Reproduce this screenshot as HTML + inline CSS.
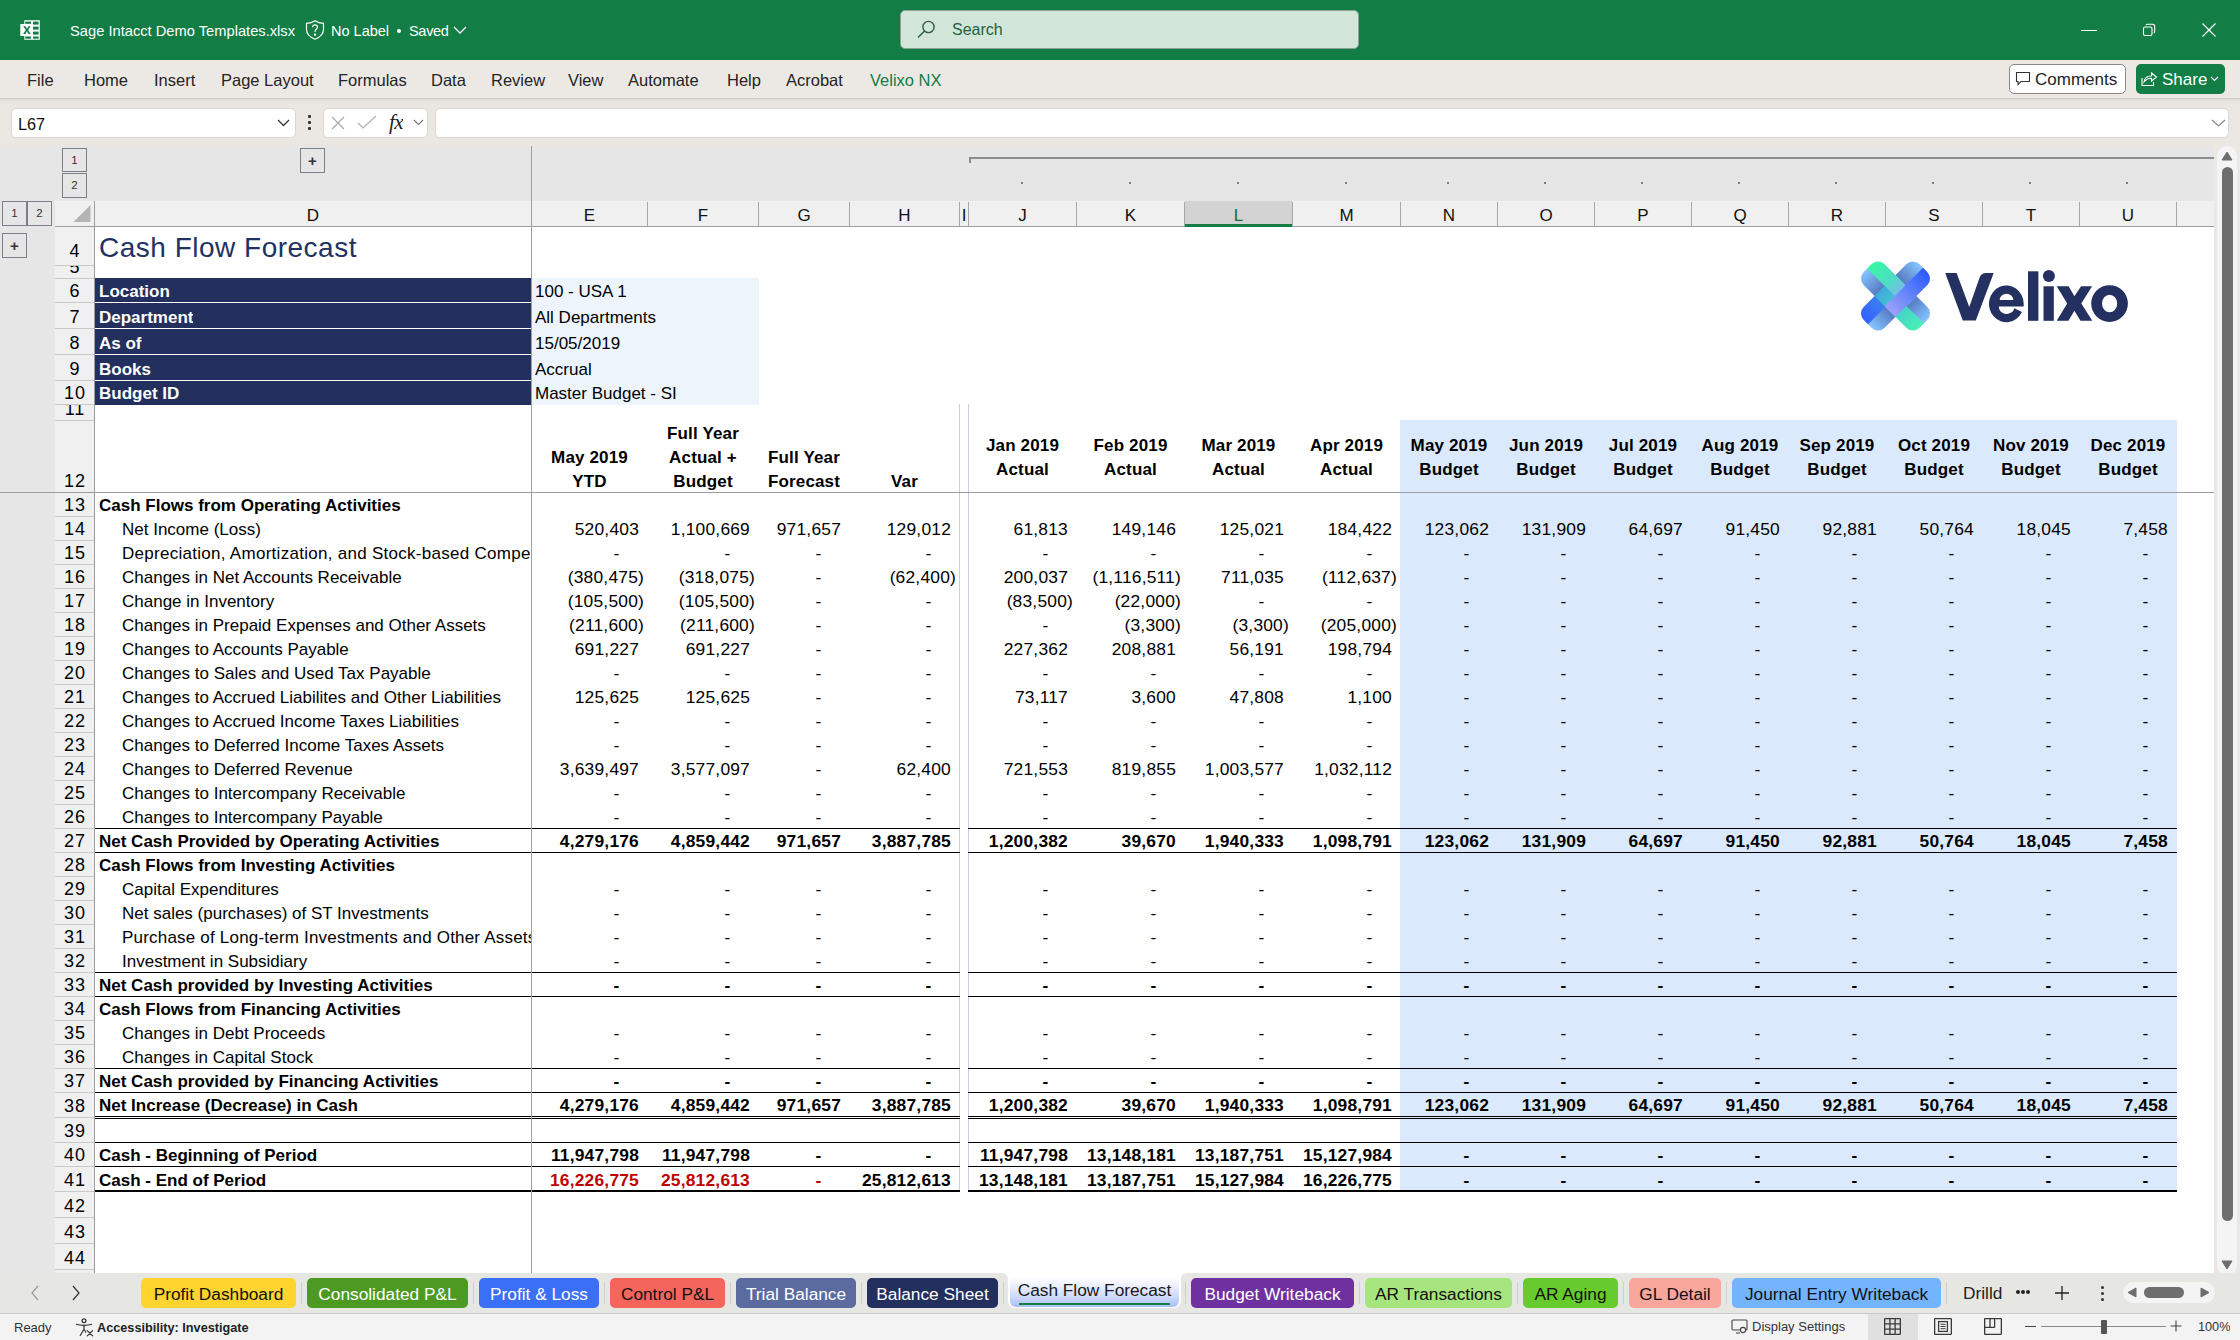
<!DOCTYPE html><html><head><meta charset="utf-8"><title>Cash Flow Forecast</title><style>
*{box-sizing:border-box;margin:0;padding:0}
html,body{width:2240px;height:1340px;overflow:hidden;background:#fff}
body{position:relative;font-family:'Liberation Sans', sans-serif;color:#000}
.a{position:absolute}
.t{position:absolute;white-space:nowrap;overflow:hidden}
.c{position:absolute;white-space:nowrap;overflow:hidden;font-size:17px;line-height:24px;height:24px}
.n{text-align:right;font-size:17.4px;letter-spacing:0.2px}
.b{font-weight:bold}
.h{visibility:hidden}
.p{display:inline-block;height:1px}
.mi{position:absolute;top:69px;font-size:16.5px;line-height:22px;color:#242424;white-space:nowrap}
.tab{position:absolute;top:1278px;height:30px;border-radius:5px;font-size:17.3px;line-height:32px;text-align:center;white-space:nowrap}
.sep{position:absolute;top:1282px;width:1px;height:22px;background:#cfcfcf}
</style></head><body>
<div class="a" style="left:0;top:0;width:2240px;height:60px;background:#127D44"></div>
<svg class="a" style="left:20px;top:20px" width="20" height="20" viewBox="0 0 20 20">
<path d="M4.3 0.3H19.8V19.8H4.3V16H0.3V4H4.3Z" fill="#fff"/>
<rect x="5.2" y="1.6" width="5.8" height="2.2" fill="#127D44"/>
<rect x="13" y="1.6" width="5.6" height="3" fill="#127D44"/>
<rect x="13" y="6.6" width="5.6" height="3" fill="#127D44"/>
<rect x="13" y="11.6" width="5.6" height="3" fill="#127D44"/>
<rect x="13" y="16.5" width="5.6" height="2.2" fill="#127D44"/>
<rect x="5.2" y="16.5" width="5.8" height="2.2" fill="#127D44"/>
<path d="M3.2 6.2H5.6L7 8.9L8.4 6.2H10.6L8.2 10L10.6 13.9H8.3L7 11.1L5.6 13.9H3.2L5.8 10Z" fill="#127D44"/>
</svg>
<div class="t" style="left:70px;top:21px;font-size:14.7px;line-height:20px;color:#fff">Sage Intacct Demo Templates.xlsx</div>
<svg class="a" style="left:305px;top:20px" width="20" height="20" viewBox="0 0 20 20" fill="none" stroke="#fff" stroke-width="1.2">
<path d="M10 0.8C7.5 2.6 5 3.3 1.5 3.3V9.5C1.5 14 4.5 17 10 19.2C15.5 17 18.5 14 18.5 9.5V3.3C15 3.3 12.5 2.6 10 0.8Z"/>
<path d="M7.5 7.3C7.5 5.8 8.6 4.8 10 4.8C11.4 4.8 12.5 5.8 12.5 7.1C12.5 8.9 10 9.2 10 11.4V12"/>
<circle cx="10" cy="14.6" r="0.6" fill="#fff"/>
</svg>
<div class="t" style="left:331px;top:21px;font-size:14.5px;line-height:20px;color:#fff">No Label</div>
<div class="a" style="left:397px;top:29px;width:4px;height:4px;border-radius:50%;background:#fff"></div>
<div class="t" style="left:409px;top:21px;font-size:14.5px;line-height:20px;color:#fff;letter-spacing:-0.3px">Saved</div>
<svg class="a" style="left:453px;top:26px" width="14" height="8" viewBox="0 0 14 8"><path d="M1 1L7 7L13 1" fill="none" stroke="#fff" stroke-width="1.3"/></svg>
<div class="a" style="left:900px;top:10px;width:459px;height:39px;background:#D1E5D9;border:1px solid #8FA196;border-radius:5px"></div>
<svg class="a" style="left:917px;top:20px" width="20" height="20" viewBox="0 0 20 20" fill="none" stroke="#2d5c40" stroke-width="1.4">
<circle cx="11.5" cy="7" r="5.6"/><path d="M7.5 11L1 17.6"/></svg>
<div class="t" style="left:952px;top:20px;font-size:16px;line-height:20px;color:#1D6339">Search</div>
<div class="a" style="left:2081px;top:30px;width:16px;height:1px;background:#fff"></div>
<svg class="a" style="left:2141px;top:22px" width="16" height="16" viewBox="0 0 16 16" fill="none" stroke="#fff" stroke-width="1.1">
<rect x="2.5" y="5" width="8.5" height="8.5" rx="1.5"/><path d="M5 3.2C5.3 2.6 5.8 2.3 6.5 2.3H11.5C12.9 2.3 13.7 3.1 13.7 4.5V9.5C13.7 10.2 13.4 10.7 12.8 11"/></svg>
<svg class="a" style="left:2201px;top:22px" width="16" height="16" viewBox="0 0 16 16" fill="none" stroke="#fff" stroke-width="1.2">
<path d="M1.5 1.5L14.5 14.5M14.5 1.5L1.5 14.5"/></svg>
<div class="a" style="left:0;top:60px;width:2240px;height:38px;background:#ECE9E5"></div>
<div class="a" style="left:0;top:98px;width:2240px;height:1px;background:#D3CFCB"></div>
<div class="a" style="left:0;top:99px;width:2240px;height:3px;background:linear-gradient(#DCD9D5,#E9E6E2)"></div>
<div class="mi" style="left:27px">File</div>
<div class="mi" style="left:84px">Home</div>
<div class="mi" style="left:154px">Insert</div>
<div class="mi" style="left:221px">Page Layout</div>
<div class="mi" style="left:338px">Formulas</div>
<div class="mi" style="left:431px">Data</div>
<div class="mi" style="left:491px">Review</div>
<div class="mi" style="left:568px">View</div>
<div class="mi" style="left:628px">Automate</div>
<div class="mi" style="left:727px">Help</div>
<div class="mi" style="left:786px">Acrobat</div>
<div class="mi" style="left:870px;color:#127D44">Velixo NX</div>
<div class="a" style="left:2009px;top:64px;width:117px;height:30px;background:#fff;border:1px solid #8A8A8A;border-radius:5px"></div>
<svg class="a" style="left:2015px;top:71px" width="16" height="16" viewBox="0 0 16 16" fill="none" stroke="#333" stroke-width="1.1">
<path d="M1.5 1.5H14.5V10.5H6L3 13.5V10.5H1.5Z"/></svg>
<div class="t" style="left:2035px;top:69px;font-size:17px;line-height:22px;color:#242424">Comments</div>
<div class="a" style="left:2136px;top:64px;width:89px;height:30px;background:#127D44;border-radius:5px"></div>
<svg class="a" style="left:2141px;top:70px" width="17" height="17" viewBox="0 0 17 17" fill="none" stroke="#fff" stroke-width="1.1">
<path d="M1 8V15.5H12.5V12"/><path d="M3 12C3.5 8 6.5 6 10.5 6V3L15.5 7L10.5 11V8.3C7.5 8.3 5 9.5 3 12Z"/></svg>
<div class="t" style="left:2162px;top:69px;font-size:17px;line-height:22px;color:#fff">Share</div>
<svg class="a" style="left:2210px;top:76px" width="9" height="6" viewBox="0 0 9 6"><path d="M1 1L4.5 4.5L8 1" fill="none" stroke="#fff" stroke-width="1.2"/></svg>
<div class="a" style="left:0;top:102px;width:2240px;height:44px;background:#EAE7E3"></div>
<div class="a" style="left:11px;top:108px;width:285px;height:30px;background:#fff;border:1px solid #D9D6D3;border-radius:5px"></div>
<div class="t" style="left:18px;top:113px;font-size:16.3px;line-height:22px;color:#111">L67</div>
<svg class="a" style="left:277px;top:119px" width="13" height="8" viewBox="0 0 13 8"><path d="M1 1L6.5 6.5L12 1" fill="none" stroke="#333" stroke-width="1.3"/></svg>
<div class="a" style="left:308px;top:115px;width:3px;height:3px;background:#333;border-radius:1px"></div>
<div class="a" style="left:308px;top:121px;width:3px;height:3px;background:#333;border-radius:1px"></div>
<div class="a" style="left:308px;top:127px;width:3px;height:3px;background:#333;border-radius:1px"></div>
<div class="a" style="left:323px;top:108px;width:105px;height:30px;background:#fff;border:1px solid #D9D6D3;border-radius:5px"></div>
<svg class="a" style="left:330px;top:115px" width="16" height="16" viewBox="0 0 16 16"><path d="M2 2L14 14M14 2L2 14" stroke="#a8a8a8" stroke-width="1.2"/></svg>
<svg class="a" style="left:357px;top:115px" width="20" height="16" viewBox="0 0 20 16"><path d="M1 8L6 13L19 1" fill="none" stroke="#b0b0b0" stroke-width="1.2"/></svg>
<div class="t" style="left:389px;top:110px;font-family:'Liberation Serif',serif;font-style:italic;font-weight:normal;font-size:21px;line-height:24px;color:#222;letter-spacing:-0.5px">fx</div>
<svg class="a" style="left:413px;top:119px" width="11" height="7" viewBox="0 0 11 7"><path d="M1 1L5.5 5.5L10 1" fill="none" stroke="#777" stroke-width="1.1"/></svg>
<div class="a" style="left:435px;top:108px;width:1794px;height:30px;background:#fff;border:1px solid #D9D6D3;border-radius:5px"></div>
<svg class="a" style="left:2211px;top:119px" width="15" height="8" viewBox="0 0 15 8"><path d="M1 1L7.5 7L14 1" fill="none" stroke="#888" stroke-width="1.2"/></svg>
<div class="a" style="left:0;top:146px;width:2214px;height:55px;background:#E6E6E6"></div>
<div class="a" style="left:0;top:201px;width:55px;height:1072px;background:#E6E6E6"></div>
<div class="a" style="left:62px;top:148px;width:25px;height:24px;border:1px solid #7A7F88;background:#E6E6E6;font-size:11.5px;line-height:22px;text-align:center;color:#333">1</div>
<div class="a" style="left:62px;top:173px;width:25px;height:25px;border:1px solid #7A7F88;background:#E6E6E6;font-size:11.5px;line-height:23px;text-align:center;color:#333">2</div>
<div class="a" style="left:2px;top:201px;width:25px;height:25px;border:1px solid #7A7F88;background:#E6E6E6;font-size:11.5px;line-height:23px;text-align:center;color:#333">1</div>
<div class="a" style="left:27px;top:201px;width:25px;height:25px;border:1px solid #7A7F88;background:#E6E6E6;font-size:11.5px;line-height:23px;text-align:center;color:#333">2</div>
<div class="a" style="left:300px;top:148px;width:25px;height:25px;border:1px solid #7A7F88;background:#E6E6E6;font-size:11.5px;line-height:23px;text-align:center;color:#333"><b style="font-size:15px">+</b></div>
<div class="a" style="left:2px;top:233px;width:25px;height:25px;border:1px solid #7A7F88;background:#E6E6E6;font-size:11.5px;line-height:23px;text-align:center;color:#333"><b style="font-size:15px">+</b></div>
<div class="a" style="left:969px;top:157px;width:1245px;height:2px;background:#8C8C8C"></div>
<div class="a" style="left:969px;top:157px;width:2px;height:6px;background:#8C8C8C"></div>
<div class="a" style="left:1021px;top:182px;width:2px;height:2px;background:#7c7c7c"></div>
<div class="a" style="left:1129px;top:182px;width:2px;height:2px;background:#7c7c7c"></div>
<div class="a" style="left:1237px;top:182px;width:2px;height:2px;background:#7c7c7c"></div>
<div class="a" style="left:1345px;top:182px;width:2px;height:2px;background:#7c7c7c"></div>
<div class="a" style="left:1447px;top:182px;width:2px;height:2px;background:#7c7c7c"></div>
<div class="a" style="left:1544px;top:182px;width:2px;height:2px;background:#7c7c7c"></div>
<div class="a" style="left:1641px;top:182px;width:2px;height:2px;background:#7c7c7c"></div>
<div class="a" style="left:1738px;top:182px;width:2px;height:2px;background:#7c7c7c"></div>
<div class="a" style="left:1835px;top:182px;width:2px;height:2px;background:#7c7c7c"></div>
<div class="a" style="left:1932px;top:182px;width:2px;height:2px;background:#7c7c7c"></div>
<div class="a" style="left:2029px;top:182px;width:2px;height:2px;background:#7c7c7c"></div>
<div class="a" style="left:2126px;top:182px;width:2px;height:2px;background:#7c7c7c"></div>
<div class="a" style="left:55px;top:201px;width:2159px;height:25px;background:#F0F0F0"></div>
<div class="a" style="left:55px;top:226px;width:2159px;height:1px;background:#9E9E9E"></div>
<svg class="a" style="left:72px;top:204px" width="19" height="19" viewBox="0 0 19 19"><path d="M18.5 1V18H1.5Z" fill="#B4B4B4"/></svg>
<div class="t" style="left:95px;top:204px;width:436px;height:22px;font-size:17px;line-height:24px;text-align:center;color:#111">D</div>
<div class="a" style="left:531px;top:202px;width:1px;height:24px;background:#A8A8A8"></div>
<div class="t" style="left:532px;top:204px;width:115px;height:22px;font-size:17px;line-height:24px;text-align:center;color:#111">E</div>
<div class="a" style="left:647px;top:202px;width:1px;height:24px;background:#A8A8A8"></div>
<div class="t" style="left:648px;top:204px;width:110px;height:22px;font-size:17px;line-height:24px;text-align:center;color:#111">F</div>
<div class="a" style="left:758px;top:202px;width:1px;height:24px;background:#A8A8A8"></div>
<div class="t" style="left:759px;top:204px;width:90px;height:22px;font-size:17px;line-height:24px;text-align:center;color:#111">G</div>
<div class="a" style="left:849px;top:202px;width:1px;height:24px;background:#A8A8A8"></div>
<div class="t" style="left:850px;top:204px;width:109px;height:22px;font-size:17px;line-height:24px;text-align:center;color:#111">H</div>
<div class="a" style="left:959px;top:202px;width:1px;height:24px;background:#A8A8A8"></div>
<div class="t" style="left:960px;top:204px;width:8px;height:22px;font-size:17px;line-height:24px;text-align:center;color:#111">I</div>
<div class="a" style="left:968px;top:202px;width:1px;height:24px;background:#A8A8A8"></div>
<div class="t" style="left:969px;top:204px;width:107px;height:22px;font-size:17px;line-height:24px;text-align:center;color:#111">J</div>
<div class="a" style="left:1076px;top:202px;width:1px;height:24px;background:#A8A8A8"></div>
<div class="t" style="left:1077px;top:204px;width:107px;height:22px;font-size:17px;line-height:24px;text-align:center;color:#111">K</div>
<div class="a" style="left:1184px;top:202px;width:1px;height:24px;background:#A8A8A8"></div>
<div class="a" style="left:1185px;top:201px;width:107px;height:25px;background:#D2D2D2"></div>
<div class="a" style="left:1185px;top:224px;width:107px;height:3px;background:#127D44"></div>
<div class="t" style="left:1185px;top:204px;width:107px;height:22px;font-size:17px;line-height:24px;text-align:center;color:#1B6B3A">L</div>
<div class="a" style="left:1292px;top:202px;width:1px;height:24px;background:#A8A8A8"></div>
<div class="t" style="left:1293px;top:204px;width:107px;height:22px;font-size:17px;line-height:24px;text-align:center;color:#111">M</div>
<div class="a" style="left:1400px;top:202px;width:1px;height:24px;background:#A8A8A8"></div>
<div class="t" style="left:1401px;top:204px;width:96px;height:22px;font-size:17px;line-height:24px;text-align:center;color:#111">N</div>
<div class="a" style="left:1497px;top:202px;width:1px;height:24px;background:#A8A8A8"></div>
<div class="t" style="left:1498px;top:204px;width:96px;height:22px;font-size:17px;line-height:24px;text-align:center;color:#111">O</div>
<div class="a" style="left:1594px;top:202px;width:1px;height:24px;background:#A8A8A8"></div>
<div class="t" style="left:1595px;top:204px;width:96px;height:22px;font-size:17px;line-height:24px;text-align:center;color:#111">P</div>
<div class="a" style="left:1691px;top:202px;width:1px;height:24px;background:#A8A8A8"></div>
<div class="t" style="left:1692px;top:204px;width:96px;height:22px;font-size:17px;line-height:24px;text-align:center;color:#111">Q</div>
<div class="a" style="left:1788px;top:202px;width:1px;height:24px;background:#A8A8A8"></div>
<div class="t" style="left:1789px;top:204px;width:96px;height:22px;font-size:17px;line-height:24px;text-align:center;color:#111">R</div>
<div class="a" style="left:1885px;top:202px;width:1px;height:24px;background:#A8A8A8"></div>
<div class="t" style="left:1886px;top:204px;width:96px;height:22px;font-size:17px;line-height:24px;text-align:center;color:#111">S</div>
<div class="a" style="left:1982px;top:202px;width:1px;height:24px;background:#A8A8A8"></div>
<div class="t" style="left:1983px;top:204px;width:96px;height:22px;font-size:17px;line-height:24px;text-align:center;color:#111">T</div>
<div class="a" style="left:2079px;top:202px;width:1px;height:24px;background:#A8A8A8"></div>
<div class="t" style="left:2080px;top:204px;width:96px;height:22px;font-size:17px;line-height:24px;text-align:center;color:#111">U</div>
<div class="a" style="left:2176px;top:202px;width:1px;height:24px;background:#A8A8A8"></div>
<div class="a" style="left:55px;top:227px;width:39px;height:1046px;background:#F0F0F0"></div>
<div class="a" style="left:94px;top:201px;width:1px;height:1072px;background:#9E9E9E"></div>
<div class="t" style="left:55px;top:227px;width:39px;height:38px"><div style="position:absolute;left:0;width:39px;top:12px;text-align:center;font-size:18px;line-height:24px;letter-spacing:1px;text-indent:1px">4</div></div>
<div class="a" style="left:55px;top:265px;width:39px;height:1px;background:#C9C9C9"></div>
<div class="t" style="left:55px;top:266px;width:39px;height:12px"><div style="position:absolute;left:0;width:39px;top:-11px;text-align:center;font-size:18px;line-height:24px;letter-spacing:1px;text-indent:1px">5</div></div>
<div class="a" style="left:55px;top:278px;width:39px;height:1px;background:#C9C9C9"></div>
<div class="t" style="left:55px;top:279px;width:39px;height:23px"><div style="position:absolute;left:0;width:39px;top:0px;text-align:center;font-size:18px;line-height:24px;letter-spacing:1px;text-indent:1px">6</div></div>
<div class="a" style="left:55px;top:302px;width:39px;height:1px;background:#C9C9C9"></div>
<div class="t" style="left:55px;top:303px;width:39px;height:25px"><div style="position:absolute;left:0;width:39px;top:2px;text-align:center;font-size:18px;line-height:24px;letter-spacing:1px;text-indent:1px">7</div></div>
<div class="a" style="left:55px;top:328px;width:39px;height:1px;background:#C9C9C9"></div>
<div class="t" style="left:55px;top:329px;width:39px;height:25px"><div style="position:absolute;left:0;width:39px;top:2px;text-align:center;font-size:18px;line-height:24px;letter-spacing:1px;text-indent:1px">8</div></div>
<div class="a" style="left:55px;top:354px;width:39px;height:1px;background:#C9C9C9"></div>
<div class="t" style="left:55px;top:355px;width:39px;height:25px"><div style="position:absolute;left:0;width:39px;top:2px;text-align:center;font-size:18px;line-height:24px;letter-spacing:1px;text-indent:1px">9</div></div>
<div class="a" style="left:55px;top:380px;width:39px;height:1px;background:#C9C9C9"></div>
<div class="t" style="left:55px;top:381px;width:39px;height:23px"><div style="position:absolute;left:0;width:39px;top:0px;text-align:center;font-size:18px;line-height:24px;letter-spacing:1px;text-indent:1px">10</div></div>
<div class="a" style="left:55px;top:404px;width:39px;height:1px;background:#C9C9C9"></div>
<div class="t" style="left:55px;top:405px;width:39px;height:15px"><div style="position:absolute;left:0;width:39px;top:-8px;text-align:center;font-size:18px;line-height:24px;letter-spacing:1px;text-indent:1px">11</div></div>
<div class="a" style="left:55px;top:420px;width:39px;height:1px;background:#C9C9C9"></div>
<div class="t" style="left:55px;top:421px;width:39px;height:71px"><div style="position:absolute;left:0;width:39px;top:48px;text-align:center;font-size:18px;line-height:24px;letter-spacing:1px;text-indent:1px">12</div></div>
<div class="t" style="left:55px;top:493px;width:39px;height:23px"><div style="position:absolute;left:0;width:39px;top:0px;text-align:center;font-size:18px;line-height:24px;letter-spacing:1px;text-indent:1px">13</div></div>
<div class="a" style="left:55px;top:516px;width:39px;height:1px;background:#C9C9C9"></div>
<div class="t" style="left:55px;top:517px;width:39px;height:23px"><div style="position:absolute;left:0;width:39px;top:0px;text-align:center;font-size:18px;line-height:24px;letter-spacing:1px;text-indent:1px">14</div></div>
<div class="a" style="left:55px;top:540px;width:39px;height:1px;background:#C9C9C9"></div>
<div class="t" style="left:55px;top:541px;width:39px;height:23px"><div style="position:absolute;left:0;width:39px;top:0px;text-align:center;font-size:18px;line-height:24px;letter-spacing:1px;text-indent:1px">15</div></div>
<div class="a" style="left:55px;top:564px;width:39px;height:1px;background:#C9C9C9"></div>
<div class="t" style="left:55px;top:565px;width:39px;height:23px"><div style="position:absolute;left:0;width:39px;top:0px;text-align:center;font-size:18px;line-height:24px;letter-spacing:1px;text-indent:1px">16</div></div>
<div class="a" style="left:55px;top:588px;width:39px;height:1px;background:#C9C9C9"></div>
<div class="t" style="left:55px;top:589px;width:39px;height:23px"><div style="position:absolute;left:0;width:39px;top:0px;text-align:center;font-size:18px;line-height:24px;letter-spacing:1px;text-indent:1px">17</div></div>
<div class="a" style="left:55px;top:612px;width:39px;height:1px;background:#C9C9C9"></div>
<div class="t" style="left:55px;top:613px;width:39px;height:23px"><div style="position:absolute;left:0;width:39px;top:0px;text-align:center;font-size:18px;line-height:24px;letter-spacing:1px;text-indent:1px">18</div></div>
<div class="a" style="left:55px;top:636px;width:39px;height:1px;background:#C9C9C9"></div>
<div class="t" style="left:55px;top:637px;width:39px;height:23px"><div style="position:absolute;left:0;width:39px;top:0px;text-align:center;font-size:18px;line-height:24px;letter-spacing:1px;text-indent:1px">19</div></div>
<div class="a" style="left:55px;top:660px;width:39px;height:1px;background:#C9C9C9"></div>
<div class="t" style="left:55px;top:661px;width:39px;height:23px"><div style="position:absolute;left:0;width:39px;top:0px;text-align:center;font-size:18px;line-height:24px;letter-spacing:1px;text-indent:1px">20</div></div>
<div class="a" style="left:55px;top:684px;width:39px;height:1px;background:#C9C9C9"></div>
<div class="t" style="left:55px;top:685px;width:39px;height:23px"><div style="position:absolute;left:0;width:39px;top:0px;text-align:center;font-size:18px;line-height:24px;letter-spacing:1px;text-indent:1px">21</div></div>
<div class="a" style="left:55px;top:708px;width:39px;height:1px;background:#C9C9C9"></div>
<div class="t" style="left:55px;top:709px;width:39px;height:23px"><div style="position:absolute;left:0;width:39px;top:0px;text-align:center;font-size:18px;line-height:24px;letter-spacing:1px;text-indent:1px">22</div></div>
<div class="a" style="left:55px;top:732px;width:39px;height:1px;background:#C9C9C9"></div>
<div class="t" style="left:55px;top:733px;width:39px;height:23px"><div style="position:absolute;left:0;width:39px;top:0px;text-align:center;font-size:18px;line-height:24px;letter-spacing:1px;text-indent:1px">23</div></div>
<div class="a" style="left:55px;top:756px;width:39px;height:1px;background:#C9C9C9"></div>
<div class="t" style="left:55px;top:757px;width:39px;height:23px"><div style="position:absolute;left:0;width:39px;top:0px;text-align:center;font-size:18px;line-height:24px;letter-spacing:1px;text-indent:1px">24</div></div>
<div class="a" style="left:55px;top:780px;width:39px;height:1px;background:#C9C9C9"></div>
<div class="t" style="left:55px;top:781px;width:39px;height:23px"><div style="position:absolute;left:0;width:39px;top:0px;text-align:center;font-size:18px;line-height:24px;letter-spacing:1px;text-indent:1px">25</div></div>
<div class="a" style="left:55px;top:804px;width:39px;height:1px;background:#C9C9C9"></div>
<div class="t" style="left:55px;top:805px;width:39px;height:23px"><div style="position:absolute;left:0;width:39px;top:0px;text-align:center;font-size:18px;line-height:24px;letter-spacing:1px;text-indent:1px">26</div></div>
<div class="a" style="left:55px;top:828px;width:39px;height:1px;background:#C9C9C9"></div>
<div class="t" style="left:55px;top:829px;width:39px;height:23px"><div style="position:absolute;left:0;width:39px;top:0px;text-align:center;font-size:18px;line-height:24px;letter-spacing:1px;text-indent:1px">27</div></div>
<div class="a" style="left:55px;top:852px;width:39px;height:1px;background:#C9C9C9"></div>
<div class="t" style="left:55px;top:853px;width:39px;height:23px"><div style="position:absolute;left:0;width:39px;top:0px;text-align:center;font-size:18px;line-height:24px;letter-spacing:1px;text-indent:1px">28</div></div>
<div class="a" style="left:55px;top:876px;width:39px;height:1px;background:#C9C9C9"></div>
<div class="t" style="left:55px;top:877px;width:39px;height:23px"><div style="position:absolute;left:0;width:39px;top:0px;text-align:center;font-size:18px;line-height:24px;letter-spacing:1px;text-indent:1px">29</div></div>
<div class="a" style="left:55px;top:900px;width:39px;height:1px;background:#C9C9C9"></div>
<div class="t" style="left:55px;top:901px;width:39px;height:23px"><div style="position:absolute;left:0;width:39px;top:0px;text-align:center;font-size:18px;line-height:24px;letter-spacing:1px;text-indent:1px">30</div></div>
<div class="a" style="left:55px;top:924px;width:39px;height:1px;background:#C9C9C9"></div>
<div class="t" style="left:55px;top:925px;width:39px;height:23px"><div style="position:absolute;left:0;width:39px;top:0px;text-align:center;font-size:18px;line-height:24px;letter-spacing:1px;text-indent:1px">31</div></div>
<div class="a" style="left:55px;top:948px;width:39px;height:1px;background:#C9C9C9"></div>
<div class="t" style="left:55px;top:949px;width:39px;height:23px"><div style="position:absolute;left:0;width:39px;top:0px;text-align:center;font-size:18px;line-height:24px;letter-spacing:1px;text-indent:1px">32</div></div>
<div class="a" style="left:55px;top:972px;width:39px;height:1px;background:#C9C9C9"></div>
<div class="t" style="left:55px;top:973px;width:39px;height:23px"><div style="position:absolute;left:0;width:39px;top:0px;text-align:center;font-size:18px;line-height:24px;letter-spacing:1px;text-indent:1px">33</div></div>
<div class="a" style="left:55px;top:996px;width:39px;height:1px;background:#C9C9C9"></div>
<div class="t" style="left:55px;top:997px;width:39px;height:23px"><div style="position:absolute;left:0;width:39px;top:0px;text-align:center;font-size:18px;line-height:24px;letter-spacing:1px;text-indent:1px">34</div></div>
<div class="a" style="left:55px;top:1020px;width:39px;height:1px;background:#C9C9C9"></div>
<div class="t" style="left:55px;top:1021px;width:39px;height:23px"><div style="position:absolute;left:0;width:39px;top:0px;text-align:center;font-size:18px;line-height:24px;letter-spacing:1px;text-indent:1px">35</div></div>
<div class="a" style="left:55px;top:1044px;width:39px;height:1px;background:#C9C9C9"></div>
<div class="t" style="left:55px;top:1045px;width:39px;height:23px"><div style="position:absolute;left:0;width:39px;top:0px;text-align:center;font-size:18px;line-height:24px;letter-spacing:1px;text-indent:1px">36</div></div>
<div class="a" style="left:55px;top:1068px;width:39px;height:1px;background:#C9C9C9"></div>
<div class="t" style="left:55px;top:1069px;width:39px;height:23px"><div style="position:absolute;left:0;width:39px;top:0px;text-align:center;font-size:18px;line-height:24px;letter-spacing:1px;text-indent:1px">37</div></div>
<div class="a" style="left:55px;top:1092px;width:39px;height:1px;background:#C9C9C9"></div>
<div class="t" style="left:55px;top:1093px;width:39px;height:24px"><div style="position:absolute;left:0;width:39px;top:1px;text-align:center;font-size:18px;line-height:24px;letter-spacing:1px;text-indent:1px">38</div></div>
<div class="a" style="left:55px;top:1117px;width:39px;height:1px;background:#C9C9C9"></div>
<div class="t" style="left:55px;top:1118px;width:39px;height:24px"><div style="position:absolute;left:0;width:39px;top:1px;text-align:center;font-size:18px;line-height:24px;letter-spacing:1px;text-indent:1px">39</div></div>
<div class="a" style="left:55px;top:1142px;width:39px;height:1px;background:#C9C9C9"></div>
<div class="t" style="left:55px;top:1143px;width:39px;height:23px"><div style="position:absolute;left:0;width:39px;top:0px;text-align:center;font-size:18px;line-height:24px;letter-spacing:1px;text-indent:1px">40</div></div>
<div class="a" style="left:55px;top:1166px;width:39px;height:1px;background:#C9C9C9"></div>
<div class="t" style="left:55px;top:1167px;width:39px;height:24px"><div style="position:absolute;left:0;width:39px;top:1px;text-align:center;font-size:18px;line-height:24px;letter-spacing:1px;text-indent:1px">41</div></div>
<div class="a" style="left:55px;top:1191px;width:39px;height:1px;background:#C9C9C9"></div>
<div class="t" style="left:55px;top:1192px;width:39px;height:25px"><div style="position:absolute;left:0;width:39px;top:2px;text-align:center;font-size:18px;line-height:24px;letter-spacing:1px;text-indent:1px">42</div></div>
<div class="a" style="left:55px;top:1217px;width:39px;height:1px;background:#C9C9C9"></div>
<div class="t" style="left:55px;top:1218px;width:39px;height:25px"><div style="position:absolute;left:0;width:39px;top:2px;text-align:center;font-size:18px;line-height:24px;letter-spacing:1px;text-indent:1px">43</div></div>
<div class="a" style="left:55px;top:1243px;width:39px;height:1px;background:#C9C9C9"></div>
<div class="t" style="left:55px;top:1244px;width:39px;height:25px"><div style="position:absolute;left:0;width:39px;top:2px;text-align:center;font-size:18px;line-height:24px;letter-spacing:1px;text-indent:1px">44</div></div>
<div class="a" style="left:55px;top:1269px;width:39px;height:1px;background:#C9C9C9"></div>
<div class="t" style="left:55px;top:1270px;width:39px;height:3px"><div style="position:absolute;left:0;width:39px;top:2px;text-align:center;font-size:18px;line-height:24px;letter-spacing:1px;text-indent:1px">45</div></div>
<div class="a" style="left:95px;top:227px;width:2119px;height:1046px;overflow:hidden">
<div class="a" style="left:437px;top:51px;width:227px;height:127px;background:#EDF4FC"></div>
<div class="a" style="left:1305px;top:193px;width:777px;height:771px;background:#DAE9FC"></div>
<div class="a" style="left:0px;top:51px;width:436px;height:127px;background:#23305E"></div>
<div class="a" style="left:0px;top:75px;width:436px;height:1px;background:#fff"></div>
<div class="a" style="left:0px;top:101px;width:436px;height:1px;background:#fff"></div>
<div class="a" style="left:0px;top:127px;width:436px;height:1px;background:#fff"></div>
<div class="a" style="left:0px;top:153px;width:436px;height:1px;background:#fff"></div>
<div class="c b" style="left:4px;top:53px;color:#fff;">Location</div>
<div class="c" style="left:440px;top:53px;">100 - USA 1</div>
<div class="c b" style="left:4px;top:79px;color:#fff;">Department</div>
<div class="c" style="left:440px;top:79px;">All Departments</div>
<div class="c b" style="left:4px;top:105px;color:#fff;">As of</div>
<div class="c" style="left:440px;top:105px;">15/05/2019</div>
<div class="c b" style="left:4px;top:131px;color:#fff;">Books</div>
<div class="c" style="left:440px;top:131px;">Accrual</div>
<div class="c b" style="left:4px;top:155px;color:#fff;">Budget ID</div>
<div class="c" style="left:440px;top:155px;">Master Budget - SI</div>
<div class="t" style="left:4px;top:6px;font-size:28px;line-height:30px;letter-spacing:0.5px;color:#1F3263">Cash Flow Forecast</div>
<div class="t b" style="left:437px;top:219px;width:115px;font-size:17px;line-height:24px;text-align:center;letter-spacing:0.15px">May 2019<br>YTD</div>
<div class="t b" style="left:553px;top:195px;width:110px;font-size:17px;line-height:24px;text-align:center;letter-spacing:0.15px">Full Year<br>Actual +<br>Budget</div>
<div class="t b" style="left:664px;top:219px;width:90px;font-size:17px;line-height:24px;text-align:center;letter-spacing:0.15px">Full Year<br>Forecast</div>
<div class="t b" style="left:755px;top:243px;width:109px;font-size:17px;line-height:24px;text-align:center;letter-spacing:0.15px">Var</div>
<div class="t b" style="left:874px;top:207px;width:107px;font-size:17px;line-height:24px;text-align:center;letter-spacing:0.15px">Jan 2019<br>Actual</div>
<div class="t b" style="left:982px;top:207px;width:107px;font-size:17px;line-height:24px;text-align:center;letter-spacing:0.15px">Feb 2019<br>Actual</div>
<div class="t b" style="left:1090px;top:207px;width:107px;font-size:17px;line-height:24px;text-align:center;letter-spacing:0.15px">Mar 2019<br>Actual</div>
<div class="t b" style="left:1198px;top:207px;width:107px;font-size:17px;line-height:24px;text-align:center;letter-spacing:0.15px">Apr 2019<br>Actual</div>
<div class="t b" style="left:1306px;top:207px;width:96px;font-size:17px;line-height:24px;text-align:center;letter-spacing:0.15px">May 2019<br>Budget</div>
<div class="t b" style="left:1403px;top:207px;width:96px;font-size:17px;line-height:24px;text-align:center;letter-spacing:0.15px">Jun 2019<br>Budget</div>
<div class="t b" style="left:1500px;top:207px;width:96px;font-size:17px;line-height:24px;text-align:center;letter-spacing:0.15px">Jul 2019<br>Budget</div>
<div class="t b" style="left:1597px;top:207px;width:96px;font-size:17px;line-height:24px;text-align:center;letter-spacing:0.15px">Aug 2019<br>Budget</div>
<div class="t b" style="left:1694px;top:207px;width:96px;font-size:17px;line-height:24px;text-align:center;letter-spacing:0.15px">Sep 2019<br>Budget</div>
<div class="t b" style="left:1791px;top:207px;width:96px;font-size:17px;line-height:24px;text-align:center;letter-spacing:0.15px">Oct 2019<br>Budget</div>
<div class="t b" style="left:1888px;top:207px;width:96px;font-size:17px;line-height:24px;text-align:center;letter-spacing:0.15px">Nov 2019<br>Budget</div>
<div class="t b" style="left:1985px;top:207px;width:96px;font-size:17px;line-height:24px;text-align:center;letter-spacing:0.15px">Dec 2019<br>Budget</div>
<div class="a" style="left:864px;top:177px;width:1px;height:787px;background:#C7CEEC"></div>
<div class="a" style="left:873px;top:177px;width:1px;height:787px;background:#C7CEEC"></div>
<div class="c b" style="left:4px;top:267px;width:432px;">Cash Flows from Operating Activities</div>
<div class="c" style="left:27px;top:291px;width:409px;">Net Income (Loss)</div>
<div class="c n" style="left:437px;top:290px;width:112px;">520,403<span class="p" style="width:5px"></span></div>
<div class="c n" style="left:553px;top:290px;width:107px;">1,100,669<span class="p" style="width:5px"></span></div>
<div class="c n" style="left:664px;top:290px;width:87px;">971,657<span class="p" style="width:5px"></span></div>
<div class="c n" style="left:755px;top:290px;width:106px;">129,012<span class="p" style="width:5px"></span></div>
<div class="c n" style="left:874px;top:290px;width:104px;">61,813<span class="p" style="width:5px"></span></div>
<div class="c n" style="left:982px;top:290px;width:104px;">149,146<span class="p" style="width:5px"></span></div>
<div class="c n" style="left:1090px;top:290px;width:104px;">125,021<span class="p" style="width:5px"></span></div>
<div class="c n" style="left:1198px;top:290px;width:104px;">184,422<span class="p" style="width:5px"></span></div>
<div class="c n" style="left:1306px;top:290px;width:93px;">123,062<span class="p" style="width:5px"></span></div>
<div class="c n" style="left:1403px;top:290px;width:93px;">131,909<span class="p" style="width:5px"></span></div>
<div class="c n" style="left:1500px;top:290px;width:93px;">64,697<span class="p" style="width:5px"></span></div>
<div class="c n" style="left:1597px;top:290px;width:93px;">91,450<span class="p" style="width:5px"></span></div>
<div class="c n" style="left:1694px;top:290px;width:93px;">92,881<span class="p" style="width:5px"></span></div>
<div class="c n" style="left:1791px;top:290px;width:93px;">50,764<span class="p" style="width:5px"></span></div>
<div class="c n" style="left:1888px;top:290px;width:93px;">18,045<span class="p" style="width:5px"></span></div>
<div class="c n" style="left:1985px;top:290px;width:93px;">7,458<span class="p" style="width:5px"></span></div>
<div class="c" style="left:27px;top:315px;width:409px;letter-spacing:0.28px;">Depreciation, Amortization, and Stock-based Compensation</div>
<div class="c n" style="left:437px;top:314px;width:112px;">-<span class="p" style="width:24.5px"></span></div>
<div class="c n" style="left:553px;top:314px;width:107px;">-<span class="p" style="width:24.5px"></span></div>
<div class="c n" style="left:664px;top:314px;width:87px;">-<span class="p" style="width:24.5px"></span></div>
<div class="c n" style="left:755px;top:314px;width:106px;">-<span class="p" style="width:24.5px"></span></div>
<div class="c n" style="left:874px;top:314px;width:104px;">-<span class="p" style="width:24.5px"></span></div>
<div class="c n" style="left:982px;top:314px;width:104px;">-<span class="p" style="width:24.5px"></span></div>
<div class="c n" style="left:1090px;top:314px;width:104px;">-<span class="p" style="width:24.5px"></span></div>
<div class="c n" style="left:1198px;top:314px;width:104px;">-<span class="p" style="width:24.5px"></span></div>
<div class="c n" style="left:1306px;top:314px;width:93px;">-<span class="p" style="width:24.5px"></span></div>
<div class="c n" style="left:1403px;top:314px;width:93px;">-<span class="p" style="width:24.5px"></span></div>
<div class="c n" style="left:1500px;top:314px;width:93px;">-<span class="p" style="width:24.5px"></span></div>
<div class="c n" style="left:1597px;top:314px;width:93px;">-<span class="p" style="width:24.5px"></span></div>
<div class="c n" style="left:1694px;top:314px;width:93px;">-<span class="p" style="width:24.5px"></span></div>
<div class="c n" style="left:1791px;top:314px;width:93px;">-<span class="p" style="width:24.5px"></span></div>
<div class="c n" style="left:1888px;top:314px;width:93px;">-<span class="p" style="width:24.5px"></span></div>
<div class="c n" style="left:1985px;top:314px;width:93px;">-<span class="p" style="width:24.5px"></span></div>
<div class="c" style="left:27px;top:339px;width:409px;">Changes in Net Accounts Receivable</div>
<div class="c n" style="left:437px;top:338px;width:112px;">(380,475)</div>
<div class="c n" style="left:553px;top:338px;width:107px;">(318,075)</div>
<div class="c n" style="left:664px;top:338px;width:87px;">-<span class="p" style="width:24.5px"></span></div>
<div class="c n" style="left:755px;top:338px;width:106px;">(62,400)</div>
<div class="c n" style="left:874px;top:338px;width:104px;">200,037<span class="p" style="width:5px"></span></div>
<div class="c n" style="left:982px;top:338px;width:104px;">(1,116,511)</div>
<div class="c n" style="left:1090px;top:338px;width:104px;">711,035<span class="p" style="width:5px"></span></div>
<div class="c n" style="left:1198px;top:338px;width:104px;">(112,637)</div>
<div class="c n" style="left:1306px;top:338px;width:93px;">-<span class="p" style="width:24.5px"></span></div>
<div class="c n" style="left:1403px;top:338px;width:93px;">-<span class="p" style="width:24.5px"></span></div>
<div class="c n" style="left:1500px;top:338px;width:93px;">-<span class="p" style="width:24.5px"></span></div>
<div class="c n" style="left:1597px;top:338px;width:93px;">-<span class="p" style="width:24.5px"></span></div>
<div class="c n" style="left:1694px;top:338px;width:93px;">-<span class="p" style="width:24.5px"></span></div>
<div class="c n" style="left:1791px;top:338px;width:93px;">-<span class="p" style="width:24.5px"></span></div>
<div class="c n" style="left:1888px;top:338px;width:93px;">-<span class="p" style="width:24.5px"></span></div>
<div class="c n" style="left:1985px;top:338px;width:93px;">-<span class="p" style="width:24.5px"></span></div>
<div class="c" style="left:27px;top:363px;width:409px;">Change in Inventory</div>
<div class="c n" style="left:437px;top:362px;width:112px;">(105,500)</div>
<div class="c n" style="left:553px;top:362px;width:107px;">(105,500)</div>
<div class="c n" style="left:664px;top:362px;width:87px;">-<span class="p" style="width:24.5px"></span></div>
<div class="c n" style="left:755px;top:362px;width:106px;">-<span class="p" style="width:24.5px"></span></div>
<div class="c n" style="left:874px;top:362px;width:104px;">(83,500)</div>
<div class="c n" style="left:982px;top:362px;width:104px;">(22,000)</div>
<div class="c n" style="left:1090px;top:362px;width:104px;">-<span class="p" style="width:24.5px"></span></div>
<div class="c n" style="left:1198px;top:362px;width:104px;">-<span class="p" style="width:24.5px"></span></div>
<div class="c n" style="left:1306px;top:362px;width:93px;">-<span class="p" style="width:24.5px"></span></div>
<div class="c n" style="left:1403px;top:362px;width:93px;">-<span class="p" style="width:24.5px"></span></div>
<div class="c n" style="left:1500px;top:362px;width:93px;">-<span class="p" style="width:24.5px"></span></div>
<div class="c n" style="left:1597px;top:362px;width:93px;">-<span class="p" style="width:24.5px"></span></div>
<div class="c n" style="left:1694px;top:362px;width:93px;">-<span class="p" style="width:24.5px"></span></div>
<div class="c n" style="left:1791px;top:362px;width:93px;">-<span class="p" style="width:24.5px"></span></div>
<div class="c n" style="left:1888px;top:362px;width:93px;">-<span class="p" style="width:24.5px"></span></div>
<div class="c n" style="left:1985px;top:362px;width:93px;">-<span class="p" style="width:24.5px"></span></div>
<div class="c" style="left:27px;top:387px;width:409px;">Changes in Prepaid Expenses and Other Assets</div>
<div class="c n" style="left:437px;top:386px;width:112px;">(211,600)</div>
<div class="c n" style="left:553px;top:386px;width:107px;">(211,600)</div>
<div class="c n" style="left:664px;top:386px;width:87px;">-<span class="p" style="width:24.5px"></span></div>
<div class="c n" style="left:755px;top:386px;width:106px;">-<span class="p" style="width:24.5px"></span></div>
<div class="c n" style="left:874px;top:386px;width:104px;">-<span class="p" style="width:24.5px"></span></div>
<div class="c n" style="left:982px;top:386px;width:104px;">(3,300)</div>
<div class="c n" style="left:1090px;top:386px;width:104px;">(3,300)</div>
<div class="c n" style="left:1198px;top:386px;width:104px;">(205,000)</div>
<div class="c n" style="left:1306px;top:386px;width:93px;">-<span class="p" style="width:24.5px"></span></div>
<div class="c n" style="left:1403px;top:386px;width:93px;">-<span class="p" style="width:24.5px"></span></div>
<div class="c n" style="left:1500px;top:386px;width:93px;">-<span class="p" style="width:24.5px"></span></div>
<div class="c n" style="left:1597px;top:386px;width:93px;">-<span class="p" style="width:24.5px"></span></div>
<div class="c n" style="left:1694px;top:386px;width:93px;">-<span class="p" style="width:24.5px"></span></div>
<div class="c n" style="left:1791px;top:386px;width:93px;">-<span class="p" style="width:24.5px"></span></div>
<div class="c n" style="left:1888px;top:386px;width:93px;">-<span class="p" style="width:24.5px"></span></div>
<div class="c n" style="left:1985px;top:386px;width:93px;">-<span class="p" style="width:24.5px"></span></div>
<div class="c" style="left:27px;top:411px;width:409px;">Changes to Accounts Payable</div>
<div class="c n" style="left:437px;top:410px;width:112px;">691,227<span class="p" style="width:5px"></span></div>
<div class="c n" style="left:553px;top:410px;width:107px;">691,227<span class="p" style="width:5px"></span></div>
<div class="c n" style="left:664px;top:410px;width:87px;">-<span class="p" style="width:24.5px"></span></div>
<div class="c n" style="left:755px;top:410px;width:106px;">-<span class="p" style="width:24.5px"></span></div>
<div class="c n" style="left:874px;top:410px;width:104px;">227,362<span class="p" style="width:5px"></span></div>
<div class="c n" style="left:982px;top:410px;width:104px;">208,881<span class="p" style="width:5px"></span></div>
<div class="c n" style="left:1090px;top:410px;width:104px;">56,191<span class="p" style="width:5px"></span></div>
<div class="c n" style="left:1198px;top:410px;width:104px;">198,794<span class="p" style="width:5px"></span></div>
<div class="c n" style="left:1306px;top:410px;width:93px;">-<span class="p" style="width:24.5px"></span></div>
<div class="c n" style="left:1403px;top:410px;width:93px;">-<span class="p" style="width:24.5px"></span></div>
<div class="c n" style="left:1500px;top:410px;width:93px;">-<span class="p" style="width:24.5px"></span></div>
<div class="c n" style="left:1597px;top:410px;width:93px;">-<span class="p" style="width:24.5px"></span></div>
<div class="c n" style="left:1694px;top:410px;width:93px;">-<span class="p" style="width:24.5px"></span></div>
<div class="c n" style="left:1791px;top:410px;width:93px;">-<span class="p" style="width:24.5px"></span></div>
<div class="c n" style="left:1888px;top:410px;width:93px;">-<span class="p" style="width:24.5px"></span></div>
<div class="c n" style="left:1985px;top:410px;width:93px;">-<span class="p" style="width:24.5px"></span></div>
<div class="c" style="left:27px;top:435px;width:409px;">Changes to Sales and Used Tax Payable</div>
<div class="c n" style="left:437px;top:434px;width:112px;">-<span class="p" style="width:24.5px"></span></div>
<div class="c n" style="left:553px;top:434px;width:107px;">-<span class="p" style="width:24.5px"></span></div>
<div class="c n" style="left:664px;top:434px;width:87px;">-<span class="p" style="width:24.5px"></span></div>
<div class="c n" style="left:755px;top:434px;width:106px;">-<span class="p" style="width:24.5px"></span></div>
<div class="c n" style="left:874px;top:434px;width:104px;">-<span class="p" style="width:24.5px"></span></div>
<div class="c n" style="left:982px;top:434px;width:104px;">-<span class="p" style="width:24.5px"></span></div>
<div class="c n" style="left:1090px;top:434px;width:104px;">-<span class="p" style="width:24.5px"></span></div>
<div class="c n" style="left:1198px;top:434px;width:104px;">-<span class="p" style="width:24.5px"></span></div>
<div class="c n" style="left:1306px;top:434px;width:93px;">-<span class="p" style="width:24.5px"></span></div>
<div class="c n" style="left:1403px;top:434px;width:93px;">-<span class="p" style="width:24.5px"></span></div>
<div class="c n" style="left:1500px;top:434px;width:93px;">-<span class="p" style="width:24.5px"></span></div>
<div class="c n" style="left:1597px;top:434px;width:93px;">-<span class="p" style="width:24.5px"></span></div>
<div class="c n" style="left:1694px;top:434px;width:93px;">-<span class="p" style="width:24.5px"></span></div>
<div class="c n" style="left:1791px;top:434px;width:93px;">-<span class="p" style="width:24.5px"></span></div>
<div class="c n" style="left:1888px;top:434px;width:93px;">-<span class="p" style="width:24.5px"></span></div>
<div class="c n" style="left:1985px;top:434px;width:93px;">-<span class="p" style="width:24.5px"></span></div>
<div class="c" style="left:27px;top:459px;width:409px;">Changes to Accrued Liabilites and Other Liabilities</div>
<div class="c n" style="left:437px;top:458px;width:112px;">125,625<span class="p" style="width:5px"></span></div>
<div class="c n" style="left:553px;top:458px;width:107px;">125,625<span class="p" style="width:5px"></span></div>
<div class="c n" style="left:664px;top:458px;width:87px;">-<span class="p" style="width:24.5px"></span></div>
<div class="c n" style="left:755px;top:458px;width:106px;">-<span class="p" style="width:24.5px"></span></div>
<div class="c n" style="left:874px;top:458px;width:104px;">73,117<span class="p" style="width:5px"></span></div>
<div class="c n" style="left:982px;top:458px;width:104px;">3,600<span class="p" style="width:5px"></span></div>
<div class="c n" style="left:1090px;top:458px;width:104px;">47,808<span class="p" style="width:5px"></span></div>
<div class="c n" style="left:1198px;top:458px;width:104px;">1,100<span class="p" style="width:5px"></span></div>
<div class="c n" style="left:1306px;top:458px;width:93px;">-<span class="p" style="width:24.5px"></span></div>
<div class="c n" style="left:1403px;top:458px;width:93px;">-<span class="p" style="width:24.5px"></span></div>
<div class="c n" style="left:1500px;top:458px;width:93px;">-<span class="p" style="width:24.5px"></span></div>
<div class="c n" style="left:1597px;top:458px;width:93px;">-<span class="p" style="width:24.5px"></span></div>
<div class="c n" style="left:1694px;top:458px;width:93px;">-<span class="p" style="width:24.5px"></span></div>
<div class="c n" style="left:1791px;top:458px;width:93px;">-<span class="p" style="width:24.5px"></span></div>
<div class="c n" style="left:1888px;top:458px;width:93px;">-<span class="p" style="width:24.5px"></span></div>
<div class="c n" style="left:1985px;top:458px;width:93px;">-<span class="p" style="width:24.5px"></span></div>
<div class="c" style="left:27px;top:483px;width:409px;">Changes to Accrued Income Taxes Liabilities</div>
<div class="c n" style="left:437px;top:482px;width:112px;">-<span class="p" style="width:24.5px"></span></div>
<div class="c n" style="left:553px;top:482px;width:107px;">-<span class="p" style="width:24.5px"></span></div>
<div class="c n" style="left:664px;top:482px;width:87px;">-<span class="p" style="width:24.5px"></span></div>
<div class="c n" style="left:755px;top:482px;width:106px;">-<span class="p" style="width:24.5px"></span></div>
<div class="c n" style="left:874px;top:482px;width:104px;">-<span class="p" style="width:24.5px"></span></div>
<div class="c n" style="left:982px;top:482px;width:104px;">-<span class="p" style="width:24.5px"></span></div>
<div class="c n" style="left:1090px;top:482px;width:104px;">-<span class="p" style="width:24.5px"></span></div>
<div class="c n" style="left:1198px;top:482px;width:104px;">-<span class="p" style="width:24.5px"></span></div>
<div class="c n" style="left:1306px;top:482px;width:93px;">-<span class="p" style="width:24.5px"></span></div>
<div class="c n" style="left:1403px;top:482px;width:93px;">-<span class="p" style="width:24.5px"></span></div>
<div class="c n" style="left:1500px;top:482px;width:93px;">-<span class="p" style="width:24.5px"></span></div>
<div class="c n" style="left:1597px;top:482px;width:93px;">-<span class="p" style="width:24.5px"></span></div>
<div class="c n" style="left:1694px;top:482px;width:93px;">-<span class="p" style="width:24.5px"></span></div>
<div class="c n" style="left:1791px;top:482px;width:93px;">-<span class="p" style="width:24.5px"></span></div>
<div class="c n" style="left:1888px;top:482px;width:93px;">-<span class="p" style="width:24.5px"></span></div>
<div class="c n" style="left:1985px;top:482px;width:93px;">-<span class="p" style="width:24.5px"></span></div>
<div class="c" style="left:27px;top:507px;width:409px;">Changes to Deferred Income Taxes Assets</div>
<div class="c n" style="left:437px;top:506px;width:112px;">-<span class="p" style="width:24.5px"></span></div>
<div class="c n" style="left:553px;top:506px;width:107px;">-<span class="p" style="width:24.5px"></span></div>
<div class="c n" style="left:664px;top:506px;width:87px;">-<span class="p" style="width:24.5px"></span></div>
<div class="c n" style="left:755px;top:506px;width:106px;">-<span class="p" style="width:24.5px"></span></div>
<div class="c n" style="left:874px;top:506px;width:104px;">-<span class="p" style="width:24.5px"></span></div>
<div class="c n" style="left:982px;top:506px;width:104px;">-<span class="p" style="width:24.5px"></span></div>
<div class="c n" style="left:1090px;top:506px;width:104px;">-<span class="p" style="width:24.5px"></span></div>
<div class="c n" style="left:1198px;top:506px;width:104px;">-<span class="p" style="width:24.5px"></span></div>
<div class="c n" style="left:1306px;top:506px;width:93px;">-<span class="p" style="width:24.5px"></span></div>
<div class="c n" style="left:1403px;top:506px;width:93px;">-<span class="p" style="width:24.5px"></span></div>
<div class="c n" style="left:1500px;top:506px;width:93px;">-<span class="p" style="width:24.5px"></span></div>
<div class="c n" style="left:1597px;top:506px;width:93px;">-<span class="p" style="width:24.5px"></span></div>
<div class="c n" style="left:1694px;top:506px;width:93px;">-<span class="p" style="width:24.5px"></span></div>
<div class="c n" style="left:1791px;top:506px;width:93px;">-<span class="p" style="width:24.5px"></span></div>
<div class="c n" style="left:1888px;top:506px;width:93px;">-<span class="p" style="width:24.5px"></span></div>
<div class="c n" style="left:1985px;top:506px;width:93px;">-<span class="p" style="width:24.5px"></span></div>
<div class="c" style="left:27px;top:531px;width:409px;">Changes to Deferred Revenue</div>
<div class="c n" style="left:437px;top:530px;width:112px;">3,639,497<span class="p" style="width:5px"></span></div>
<div class="c n" style="left:553px;top:530px;width:107px;">3,577,097<span class="p" style="width:5px"></span></div>
<div class="c n" style="left:664px;top:530px;width:87px;">-<span class="p" style="width:24.5px"></span></div>
<div class="c n" style="left:755px;top:530px;width:106px;">62,400<span class="p" style="width:5px"></span></div>
<div class="c n" style="left:874px;top:530px;width:104px;">721,553<span class="p" style="width:5px"></span></div>
<div class="c n" style="left:982px;top:530px;width:104px;">819,855<span class="p" style="width:5px"></span></div>
<div class="c n" style="left:1090px;top:530px;width:104px;">1,003,577<span class="p" style="width:5px"></span></div>
<div class="c n" style="left:1198px;top:530px;width:104px;">1,032,112<span class="p" style="width:5px"></span></div>
<div class="c n" style="left:1306px;top:530px;width:93px;">-<span class="p" style="width:24.5px"></span></div>
<div class="c n" style="left:1403px;top:530px;width:93px;">-<span class="p" style="width:24.5px"></span></div>
<div class="c n" style="left:1500px;top:530px;width:93px;">-<span class="p" style="width:24.5px"></span></div>
<div class="c n" style="left:1597px;top:530px;width:93px;">-<span class="p" style="width:24.5px"></span></div>
<div class="c n" style="left:1694px;top:530px;width:93px;">-<span class="p" style="width:24.5px"></span></div>
<div class="c n" style="left:1791px;top:530px;width:93px;">-<span class="p" style="width:24.5px"></span></div>
<div class="c n" style="left:1888px;top:530px;width:93px;">-<span class="p" style="width:24.5px"></span></div>
<div class="c n" style="left:1985px;top:530px;width:93px;">-<span class="p" style="width:24.5px"></span></div>
<div class="c" style="left:27px;top:555px;width:409px;">Changes to Intercompany Receivable</div>
<div class="c n" style="left:437px;top:554px;width:112px;">-<span class="p" style="width:24.5px"></span></div>
<div class="c n" style="left:553px;top:554px;width:107px;">-<span class="p" style="width:24.5px"></span></div>
<div class="c n" style="left:664px;top:554px;width:87px;">-<span class="p" style="width:24.5px"></span></div>
<div class="c n" style="left:755px;top:554px;width:106px;">-<span class="p" style="width:24.5px"></span></div>
<div class="c n" style="left:874px;top:554px;width:104px;">-<span class="p" style="width:24.5px"></span></div>
<div class="c n" style="left:982px;top:554px;width:104px;">-<span class="p" style="width:24.5px"></span></div>
<div class="c n" style="left:1090px;top:554px;width:104px;">-<span class="p" style="width:24.5px"></span></div>
<div class="c n" style="left:1198px;top:554px;width:104px;">-<span class="p" style="width:24.5px"></span></div>
<div class="c n" style="left:1306px;top:554px;width:93px;">-<span class="p" style="width:24.5px"></span></div>
<div class="c n" style="left:1403px;top:554px;width:93px;">-<span class="p" style="width:24.5px"></span></div>
<div class="c n" style="left:1500px;top:554px;width:93px;">-<span class="p" style="width:24.5px"></span></div>
<div class="c n" style="left:1597px;top:554px;width:93px;">-<span class="p" style="width:24.5px"></span></div>
<div class="c n" style="left:1694px;top:554px;width:93px;">-<span class="p" style="width:24.5px"></span></div>
<div class="c n" style="left:1791px;top:554px;width:93px;">-<span class="p" style="width:24.5px"></span></div>
<div class="c n" style="left:1888px;top:554px;width:93px;">-<span class="p" style="width:24.5px"></span></div>
<div class="c n" style="left:1985px;top:554px;width:93px;">-<span class="p" style="width:24.5px"></span></div>
<div class="c" style="left:27px;top:579px;width:409px;">Changes to Intercompany Payable</div>
<div class="c n" style="left:437px;top:578px;width:112px;">-<span class="p" style="width:24.5px"></span></div>
<div class="c n" style="left:553px;top:578px;width:107px;">-<span class="p" style="width:24.5px"></span></div>
<div class="c n" style="left:664px;top:578px;width:87px;">-<span class="p" style="width:24.5px"></span></div>
<div class="c n" style="left:755px;top:578px;width:106px;">-<span class="p" style="width:24.5px"></span></div>
<div class="c n" style="left:874px;top:578px;width:104px;">-<span class="p" style="width:24.5px"></span></div>
<div class="c n" style="left:982px;top:578px;width:104px;">-<span class="p" style="width:24.5px"></span></div>
<div class="c n" style="left:1090px;top:578px;width:104px;">-<span class="p" style="width:24.5px"></span></div>
<div class="c n" style="left:1198px;top:578px;width:104px;">-<span class="p" style="width:24.5px"></span></div>
<div class="c n" style="left:1306px;top:578px;width:93px;">-<span class="p" style="width:24.5px"></span></div>
<div class="c n" style="left:1403px;top:578px;width:93px;">-<span class="p" style="width:24.5px"></span></div>
<div class="c n" style="left:1500px;top:578px;width:93px;">-<span class="p" style="width:24.5px"></span></div>
<div class="c n" style="left:1597px;top:578px;width:93px;">-<span class="p" style="width:24.5px"></span></div>
<div class="c n" style="left:1694px;top:578px;width:93px;">-<span class="p" style="width:24.5px"></span></div>
<div class="c n" style="left:1791px;top:578px;width:93px;">-<span class="p" style="width:24.5px"></span></div>
<div class="c n" style="left:1888px;top:578px;width:93px;">-<span class="p" style="width:24.5px"></span></div>
<div class="c n" style="left:1985px;top:578px;width:93px;">-<span class="p" style="width:24.5px"></span></div>
<div class="c b" style="left:4px;top:603px;width:432px;">Net Cash Provided by Operating Activities</div>
<div class="c b n" style="left:437px;top:602px;width:112px;">4,279,176<span class="p" style="width:5px"></span></div>
<div class="c b n" style="left:553px;top:602px;width:107px;">4,859,442<span class="p" style="width:5px"></span></div>
<div class="c b n" style="left:664px;top:602px;width:87px;">971,657<span class="p" style="width:5px"></span></div>
<div class="c b n" style="left:755px;top:602px;width:106px;">3,887,785<span class="p" style="width:5px"></span></div>
<div class="c b n" style="left:874px;top:602px;width:104px;">1,200,382<span class="p" style="width:5px"></span></div>
<div class="c b n" style="left:982px;top:602px;width:104px;">39,670<span class="p" style="width:5px"></span></div>
<div class="c b n" style="left:1090px;top:602px;width:104px;">1,940,333<span class="p" style="width:5px"></span></div>
<div class="c b n" style="left:1198px;top:602px;width:104px;">1,098,791<span class="p" style="width:5px"></span></div>
<div class="c b n" style="left:1306px;top:602px;width:93px;">123,062<span class="p" style="width:5px"></span></div>
<div class="c b n" style="left:1403px;top:602px;width:93px;">131,909<span class="p" style="width:5px"></span></div>
<div class="c b n" style="left:1500px;top:602px;width:93px;">64,697<span class="p" style="width:5px"></span></div>
<div class="c b n" style="left:1597px;top:602px;width:93px;">91,450<span class="p" style="width:5px"></span></div>
<div class="c b n" style="left:1694px;top:602px;width:93px;">92,881<span class="p" style="width:5px"></span></div>
<div class="c b n" style="left:1791px;top:602px;width:93px;">50,764<span class="p" style="width:5px"></span></div>
<div class="c b n" style="left:1888px;top:602px;width:93px;">18,045<span class="p" style="width:5px"></span></div>
<div class="c b n" style="left:1985px;top:602px;width:93px;">7,458<span class="p" style="width:5px"></span></div>
<div class="c b" style="left:4px;top:627px;width:432px;">Cash Flows from Investing Activities</div>
<div class="c" style="left:27px;top:651px;width:409px;">Capital Expenditures</div>
<div class="c n" style="left:437px;top:650px;width:112px;">-<span class="p" style="width:24.5px"></span></div>
<div class="c n" style="left:553px;top:650px;width:107px;">-<span class="p" style="width:24.5px"></span></div>
<div class="c n" style="left:664px;top:650px;width:87px;">-<span class="p" style="width:24.5px"></span></div>
<div class="c n" style="left:755px;top:650px;width:106px;">-<span class="p" style="width:24.5px"></span></div>
<div class="c n" style="left:874px;top:650px;width:104px;">-<span class="p" style="width:24.5px"></span></div>
<div class="c n" style="left:982px;top:650px;width:104px;">-<span class="p" style="width:24.5px"></span></div>
<div class="c n" style="left:1090px;top:650px;width:104px;">-<span class="p" style="width:24.5px"></span></div>
<div class="c n" style="left:1198px;top:650px;width:104px;">-<span class="p" style="width:24.5px"></span></div>
<div class="c n" style="left:1306px;top:650px;width:93px;">-<span class="p" style="width:24.5px"></span></div>
<div class="c n" style="left:1403px;top:650px;width:93px;">-<span class="p" style="width:24.5px"></span></div>
<div class="c n" style="left:1500px;top:650px;width:93px;">-<span class="p" style="width:24.5px"></span></div>
<div class="c n" style="left:1597px;top:650px;width:93px;">-<span class="p" style="width:24.5px"></span></div>
<div class="c n" style="left:1694px;top:650px;width:93px;">-<span class="p" style="width:24.5px"></span></div>
<div class="c n" style="left:1791px;top:650px;width:93px;">-<span class="p" style="width:24.5px"></span></div>
<div class="c n" style="left:1888px;top:650px;width:93px;">-<span class="p" style="width:24.5px"></span></div>
<div class="c n" style="left:1985px;top:650px;width:93px;">-<span class="p" style="width:24.5px"></span></div>
<div class="c" style="left:27px;top:675px;width:409px;">Net sales (purchases) of ST Investments</div>
<div class="c n" style="left:437px;top:674px;width:112px;">-<span class="p" style="width:24.5px"></span></div>
<div class="c n" style="left:553px;top:674px;width:107px;">-<span class="p" style="width:24.5px"></span></div>
<div class="c n" style="left:664px;top:674px;width:87px;">-<span class="p" style="width:24.5px"></span></div>
<div class="c n" style="left:755px;top:674px;width:106px;">-<span class="p" style="width:24.5px"></span></div>
<div class="c n" style="left:874px;top:674px;width:104px;">-<span class="p" style="width:24.5px"></span></div>
<div class="c n" style="left:982px;top:674px;width:104px;">-<span class="p" style="width:24.5px"></span></div>
<div class="c n" style="left:1090px;top:674px;width:104px;">-<span class="p" style="width:24.5px"></span></div>
<div class="c n" style="left:1198px;top:674px;width:104px;">-<span class="p" style="width:24.5px"></span></div>
<div class="c n" style="left:1306px;top:674px;width:93px;">-<span class="p" style="width:24.5px"></span></div>
<div class="c n" style="left:1403px;top:674px;width:93px;">-<span class="p" style="width:24.5px"></span></div>
<div class="c n" style="left:1500px;top:674px;width:93px;">-<span class="p" style="width:24.5px"></span></div>
<div class="c n" style="left:1597px;top:674px;width:93px;">-<span class="p" style="width:24.5px"></span></div>
<div class="c n" style="left:1694px;top:674px;width:93px;">-<span class="p" style="width:24.5px"></span></div>
<div class="c n" style="left:1791px;top:674px;width:93px;">-<span class="p" style="width:24.5px"></span></div>
<div class="c n" style="left:1888px;top:674px;width:93px;">-<span class="p" style="width:24.5px"></span></div>
<div class="c n" style="left:1985px;top:674px;width:93px;">-<span class="p" style="width:24.5px"></span></div>
<div class="c" style="left:27px;top:699px;width:409px;letter-spacing:0.2px;">Purchase of Long-term Investments and Other Assets</div>
<div class="c n" style="left:437px;top:698px;width:112px;">-<span class="p" style="width:24.5px"></span></div>
<div class="c n" style="left:553px;top:698px;width:107px;">-<span class="p" style="width:24.5px"></span></div>
<div class="c n" style="left:664px;top:698px;width:87px;">-<span class="p" style="width:24.5px"></span></div>
<div class="c n" style="left:755px;top:698px;width:106px;">-<span class="p" style="width:24.5px"></span></div>
<div class="c n" style="left:874px;top:698px;width:104px;">-<span class="p" style="width:24.5px"></span></div>
<div class="c n" style="left:982px;top:698px;width:104px;">-<span class="p" style="width:24.5px"></span></div>
<div class="c n" style="left:1090px;top:698px;width:104px;">-<span class="p" style="width:24.5px"></span></div>
<div class="c n" style="left:1198px;top:698px;width:104px;">-<span class="p" style="width:24.5px"></span></div>
<div class="c n" style="left:1306px;top:698px;width:93px;">-<span class="p" style="width:24.5px"></span></div>
<div class="c n" style="left:1403px;top:698px;width:93px;">-<span class="p" style="width:24.5px"></span></div>
<div class="c n" style="left:1500px;top:698px;width:93px;">-<span class="p" style="width:24.5px"></span></div>
<div class="c n" style="left:1597px;top:698px;width:93px;">-<span class="p" style="width:24.5px"></span></div>
<div class="c n" style="left:1694px;top:698px;width:93px;">-<span class="p" style="width:24.5px"></span></div>
<div class="c n" style="left:1791px;top:698px;width:93px;">-<span class="p" style="width:24.5px"></span></div>
<div class="c n" style="left:1888px;top:698px;width:93px;">-<span class="p" style="width:24.5px"></span></div>
<div class="c n" style="left:1985px;top:698px;width:93px;">-<span class="p" style="width:24.5px"></span></div>
<div class="c" style="left:27px;top:723px;width:409px;">Investment in Subsidiary</div>
<div class="c n" style="left:437px;top:722px;width:112px;">-<span class="p" style="width:24.5px"></span></div>
<div class="c n" style="left:553px;top:722px;width:107px;">-<span class="p" style="width:24.5px"></span></div>
<div class="c n" style="left:664px;top:722px;width:87px;">-<span class="p" style="width:24.5px"></span></div>
<div class="c n" style="left:755px;top:722px;width:106px;">-<span class="p" style="width:24.5px"></span></div>
<div class="c n" style="left:874px;top:722px;width:104px;">-<span class="p" style="width:24.5px"></span></div>
<div class="c n" style="left:982px;top:722px;width:104px;">-<span class="p" style="width:24.5px"></span></div>
<div class="c n" style="left:1090px;top:722px;width:104px;">-<span class="p" style="width:24.5px"></span></div>
<div class="c n" style="left:1198px;top:722px;width:104px;">-<span class="p" style="width:24.5px"></span></div>
<div class="c n" style="left:1306px;top:722px;width:93px;">-<span class="p" style="width:24.5px"></span></div>
<div class="c n" style="left:1403px;top:722px;width:93px;">-<span class="p" style="width:24.5px"></span></div>
<div class="c n" style="left:1500px;top:722px;width:93px;">-<span class="p" style="width:24.5px"></span></div>
<div class="c n" style="left:1597px;top:722px;width:93px;">-<span class="p" style="width:24.5px"></span></div>
<div class="c n" style="left:1694px;top:722px;width:93px;">-<span class="p" style="width:24.5px"></span></div>
<div class="c n" style="left:1791px;top:722px;width:93px;">-<span class="p" style="width:24.5px"></span></div>
<div class="c n" style="left:1888px;top:722px;width:93px;">-<span class="p" style="width:24.5px"></span></div>
<div class="c n" style="left:1985px;top:722px;width:93px;">-<span class="p" style="width:24.5px"></span></div>
<div class="c b" style="left:4px;top:747px;width:432px;">Net Cash provided by Investing Activities</div>
<div class="c b n" style="left:437px;top:746px;width:112px;">-<span class="p" style="width:24.5px"></span></div>
<div class="c b n" style="left:553px;top:746px;width:107px;">-<span class="p" style="width:24.5px"></span></div>
<div class="c b n" style="left:664px;top:746px;width:87px;">-<span class="p" style="width:24.5px"></span></div>
<div class="c b n" style="left:755px;top:746px;width:106px;">-<span class="p" style="width:24.5px"></span></div>
<div class="c b n" style="left:874px;top:746px;width:104px;">-<span class="p" style="width:24.5px"></span></div>
<div class="c b n" style="left:982px;top:746px;width:104px;">-<span class="p" style="width:24.5px"></span></div>
<div class="c b n" style="left:1090px;top:746px;width:104px;">-<span class="p" style="width:24.5px"></span></div>
<div class="c b n" style="left:1198px;top:746px;width:104px;">-<span class="p" style="width:24.5px"></span></div>
<div class="c b n" style="left:1306px;top:746px;width:93px;">-<span class="p" style="width:24.5px"></span></div>
<div class="c b n" style="left:1403px;top:746px;width:93px;">-<span class="p" style="width:24.5px"></span></div>
<div class="c b n" style="left:1500px;top:746px;width:93px;">-<span class="p" style="width:24.5px"></span></div>
<div class="c b n" style="left:1597px;top:746px;width:93px;">-<span class="p" style="width:24.5px"></span></div>
<div class="c b n" style="left:1694px;top:746px;width:93px;">-<span class="p" style="width:24.5px"></span></div>
<div class="c b n" style="left:1791px;top:746px;width:93px;">-<span class="p" style="width:24.5px"></span></div>
<div class="c b n" style="left:1888px;top:746px;width:93px;">-<span class="p" style="width:24.5px"></span></div>
<div class="c b n" style="left:1985px;top:746px;width:93px;">-<span class="p" style="width:24.5px"></span></div>
<div class="c b" style="left:4px;top:771px;width:432px;">Cash Flows from Financing Activities</div>
<div class="c" style="left:27px;top:795px;width:409px;">Changes in Debt Proceeds</div>
<div class="c n" style="left:437px;top:794px;width:112px;">-<span class="p" style="width:24.5px"></span></div>
<div class="c n" style="left:553px;top:794px;width:107px;">-<span class="p" style="width:24.5px"></span></div>
<div class="c n" style="left:664px;top:794px;width:87px;">-<span class="p" style="width:24.5px"></span></div>
<div class="c n" style="left:755px;top:794px;width:106px;">-<span class="p" style="width:24.5px"></span></div>
<div class="c n" style="left:874px;top:794px;width:104px;">-<span class="p" style="width:24.5px"></span></div>
<div class="c n" style="left:982px;top:794px;width:104px;">-<span class="p" style="width:24.5px"></span></div>
<div class="c n" style="left:1090px;top:794px;width:104px;">-<span class="p" style="width:24.5px"></span></div>
<div class="c n" style="left:1198px;top:794px;width:104px;">-<span class="p" style="width:24.5px"></span></div>
<div class="c n" style="left:1306px;top:794px;width:93px;">-<span class="p" style="width:24.5px"></span></div>
<div class="c n" style="left:1403px;top:794px;width:93px;">-<span class="p" style="width:24.5px"></span></div>
<div class="c n" style="left:1500px;top:794px;width:93px;">-<span class="p" style="width:24.5px"></span></div>
<div class="c n" style="left:1597px;top:794px;width:93px;">-<span class="p" style="width:24.5px"></span></div>
<div class="c n" style="left:1694px;top:794px;width:93px;">-<span class="p" style="width:24.5px"></span></div>
<div class="c n" style="left:1791px;top:794px;width:93px;">-<span class="p" style="width:24.5px"></span></div>
<div class="c n" style="left:1888px;top:794px;width:93px;">-<span class="p" style="width:24.5px"></span></div>
<div class="c n" style="left:1985px;top:794px;width:93px;">-<span class="p" style="width:24.5px"></span></div>
<div class="c" style="left:27px;top:819px;width:409px;">Changes in Capital Stock</div>
<div class="c n" style="left:437px;top:818px;width:112px;">-<span class="p" style="width:24.5px"></span></div>
<div class="c n" style="left:553px;top:818px;width:107px;">-<span class="p" style="width:24.5px"></span></div>
<div class="c n" style="left:664px;top:818px;width:87px;">-<span class="p" style="width:24.5px"></span></div>
<div class="c n" style="left:755px;top:818px;width:106px;">-<span class="p" style="width:24.5px"></span></div>
<div class="c n" style="left:874px;top:818px;width:104px;">-<span class="p" style="width:24.5px"></span></div>
<div class="c n" style="left:982px;top:818px;width:104px;">-<span class="p" style="width:24.5px"></span></div>
<div class="c n" style="left:1090px;top:818px;width:104px;">-<span class="p" style="width:24.5px"></span></div>
<div class="c n" style="left:1198px;top:818px;width:104px;">-<span class="p" style="width:24.5px"></span></div>
<div class="c n" style="left:1306px;top:818px;width:93px;">-<span class="p" style="width:24.5px"></span></div>
<div class="c n" style="left:1403px;top:818px;width:93px;">-<span class="p" style="width:24.5px"></span></div>
<div class="c n" style="left:1500px;top:818px;width:93px;">-<span class="p" style="width:24.5px"></span></div>
<div class="c n" style="left:1597px;top:818px;width:93px;">-<span class="p" style="width:24.5px"></span></div>
<div class="c n" style="left:1694px;top:818px;width:93px;">-<span class="p" style="width:24.5px"></span></div>
<div class="c n" style="left:1791px;top:818px;width:93px;">-<span class="p" style="width:24.5px"></span></div>
<div class="c n" style="left:1888px;top:818px;width:93px;">-<span class="p" style="width:24.5px"></span></div>
<div class="c n" style="left:1985px;top:818px;width:93px;">-<span class="p" style="width:24.5px"></span></div>
<div class="c b" style="left:4px;top:843px;width:432px;">Net Cash provided by Financing Activities</div>
<div class="c b n" style="left:437px;top:842px;width:112px;">-<span class="p" style="width:24.5px"></span></div>
<div class="c b n" style="left:553px;top:842px;width:107px;">-<span class="p" style="width:24.5px"></span></div>
<div class="c b n" style="left:664px;top:842px;width:87px;">-<span class="p" style="width:24.5px"></span></div>
<div class="c b n" style="left:755px;top:842px;width:106px;">-<span class="p" style="width:24.5px"></span></div>
<div class="c b n" style="left:874px;top:842px;width:104px;">-<span class="p" style="width:24.5px"></span></div>
<div class="c b n" style="left:982px;top:842px;width:104px;">-<span class="p" style="width:24.5px"></span></div>
<div class="c b n" style="left:1090px;top:842px;width:104px;">-<span class="p" style="width:24.5px"></span></div>
<div class="c b n" style="left:1198px;top:842px;width:104px;">-<span class="p" style="width:24.5px"></span></div>
<div class="c b n" style="left:1306px;top:842px;width:93px;">-<span class="p" style="width:24.5px"></span></div>
<div class="c b n" style="left:1403px;top:842px;width:93px;">-<span class="p" style="width:24.5px"></span></div>
<div class="c b n" style="left:1500px;top:842px;width:93px;">-<span class="p" style="width:24.5px"></span></div>
<div class="c b n" style="left:1597px;top:842px;width:93px;">-<span class="p" style="width:24.5px"></span></div>
<div class="c b n" style="left:1694px;top:842px;width:93px;">-<span class="p" style="width:24.5px"></span></div>
<div class="c b n" style="left:1791px;top:842px;width:93px;">-<span class="p" style="width:24.5px"></span></div>
<div class="c b n" style="left:1888px;top:842px;width:93px;">-<span class="p" style="width:24.5px"></span></div>
<div class="c b n" style="left:1985px;top:842px;width:93px;">-<span class="p" style="width:24.5px"></span></div>
<div class="c b" style="left:4px;top:867px;width:432px;">Net Increase (Decrease) in Cash</div>
<div class="c b n" style="left:437px;top:866px;width:112px;">4,279,176<span class="p" style="width:5px"></span></div>
<div class="c b n" style="left:553px;top:866px;width:107px;">4,859,442<span class="p" style="width:5px"></span></div>
<div class="c b n" style="left:664px;top:866px;width:87px;">971,657<span class="p" style="width:5px"></span></div>
<div class="c b n" style="left:755px;top:866px;width:106px;">3,887,785<span class="p" style="width:5px"></span></div>
<div class="c b n" style="left:874px;top:866px;width:104px;">1,200,382<span class="p" style="width:5px"></span></div>
<div class="c b n" style="left:982px;top:866px;width:104px;">39,670<span class="p" style="width:5px"></span></div>
<div class="c b n" style="left:1090px;top:866px;width:104px;">1,940,333<span class="p" style="width:5px"></span></div>
<div class="c b n" style="left:1198px;top:866px;width:104px;">1,098,791<span class="p" style="width:5px"></span></div>
<div class="c b n" style="left:1306px;top:866px;width:93px;">123,062<span class="p" style="width:5px"></span></div>
<div class="c b n" style="left:1403px;top:866px;width:93px;">131,909<span class="p" style="width:5px"></span></div>
<div class="c b n" style="left:1500px;top:866px;width:93px;">64,697<span class="p" style="width:5px"></span></div>
<div class="c b n" style="left:1597px;top:866px;width:93px;">91,450<span class="p" style="width:5px"></span></div>
<div class="c b n" style="left:1694px;top:866px;width:93px;">92,881<span class="p" style="width:5px"></span></div>
<div class="c b n" style="left:1791px;top:866px;width:93px;">50,764<span class="p" style="width:5px"></span></div>
<div class="c b n" style="left:1888px;top:866px;width:93px;">18,045<span class="p" style="width:5px"></span></div>
<div class="c b n" style="left:1985px;top:866px;width:93px;">7,458<span class="p" style="width:5px"></span></div>
<div class="c b" style="left:4px;top:917px;width:432px;">Cash - Beginning of Period</div>
<div class="c b n" style="left:437px;top:916px;width:112px;">11,947,798<span class="p" style="width:5px"></span></div>
<div class="c b n" style="left:553px;top:916px;width:107px;">11,947,798<span class="p" style="width:5px"></span></div>
<div class="c b n" style="left:664px;top:916px;width:87px;">-<span class="p" style="width:24.5px"></span></div>
<div class="c b n" style="left:755px;top:916px;width:106px;">-<span class="p" style="width:24.5px"></span></div>
<div class="c b n" style="left:874px;top:916px;width:104px;">11,947,798<span class="p" style="width:5px"></span></div>
<div class="c b n" style="left:982px;top:916px;width:104px;">13,148,181<span class="p" style="width:5px"></span></div>
<div class="c b n" style="left:1090px;top:916px;width:104px;">13,187,751<span class="p" style="width:5px"></span></div>
<div class="c b n" style="left:1198px;top:916px;width:104px;">15,127,984<span class="p" style="width:5px"></span></div>
<div class="c b n" style="left:1306px;top:916px;width:93px;">-<span class="p" style="width:24.5px"></span></div>
<div class="c b n" style="left:1403px;top:916px;width:93px;">-<span class="p" style="width:24.5px"></span></div>
<div class="c b n" style="left:1500px;top:916px;width:93px;">-<span class="p" style="width:24.5px"></span></div>
<div class="c b n" style="left:1597px;top:916px;width:93px;">-<span class="p" style="width:24.5px"></span></div>
<div class="c b n" style="left:1694px;top:916px;width:93px;">-<span class="p" style="width:24.5px"></span></div>
<div class="c b n" style="left:1791px;top:916px;width:93px;">-<span class="p" style="width:24.5px"></span></div>
<div class="c b n" style="left:1888px;top:916px;width:93px;">-<span class="p" style="width:24.5px"></span></div>
<div class="c b n" style="left:1985px;top:916px;width:93px;">-<span class="p" style="width:24.5px"></span></div>
<div class="c b" style="left:4px;top:942px;width:432px;">Cash - End of Period</div>
<div class="c b n" style="left:437px;top:941px;width:112px;color:#C00000;">16,226,775<span class="p" style="width:5px"></span></div>
<div class="c b n" style="left:553px;top:941px;width:107px;color:#C00000;">25,812,613<span class="p" style="width:5px"></span></div>
<div class="c b n" style="left:664px;top:941px;width:87px;color:#C00000;">-<span class="p" style="width:24.5px"></span></div>
<div class="c b n" style="left:755px;top:941px;width:106px;">25,812,613<span class="p" style="width:5px"></span></div>
<div class="c b n" style="left:874px;top:941px;width:104px;">13,148,181<span class="p" style="width:5px"></span></div>
<div class="c b n" style="left:982px;top:941px;width:104px;">13,187,751<span class="p" style="width:5px"></span></div>
<div class="c b n" style="left:1090px;top:941px;width:104px;">15,127,984<span class="p" style="width:5px"></span></div>
<div class="c b n" style="left:1198px;top:941px;width:104px;">16,226,775<span class="p" style="width:5px"></span></div>
<div class="c b n" style="left:1306px;top:941px;width:93px;">-<span class="p" style="width:24.5px"></span></div>
<div class="c b n" style="left:1403px;top:941px;width:93px;">-<span class="p" style="width:24.5px"></span></div>
<div class="c b n" style="left:1500px;top:941px;width:93px;">-<span class="p" style="width:24.5px"></span></div>
<div class="c b n" style="left:1597px;top:941px;width:93px;">-<span class="p" style="width:24.5px"></span></div>
<div class="c b n" style="left:1694px;top:941px;width:93px;">-<span class="p" style="width:24.5px"></span></div>
<div class="c b n" style="left:1791px;top:941px;width:93px;">-<span class="p" style="width:24.5px"></span></div>
<div class="c b n" style="left:1888px;top:941px;width:93px;">-<span class="p" style="width:24.5px"></span></div>
<div class="c b n" style="left:1985px;top:941px;width:93px;">-<span class="p" style="width:24.5px"></span></div>
<div class="a" style="left:0px;top:601px;width:865px;height:1px;background:#000"></div>
<div class="a" style="left:873px;top:601px;width:1209px;height:1px;background:#000"></div>
<div class="a" style="left:0px;top:625px;width:865px;height:1px;background:#000"></div>
<div class="a" style="left:873px;top:625px;width:1209px;height:1px;background:#000"></div>
<div class="a" style="left:0px;top:745px;width:865px;height:1px;background:#000"></div>
<div class="a" style="left:873px;top:745px;width:1209px;height:1px;background:#000"></div>
<div class="a" style="left:0px;top:769px;width:865px;height:1px;background:#000"></div>
<div class="a" style="left:873px;top:769px;width:1209px;height:1px;background:#000"></div>
<div class="a" style="left:0px;top:841px;width:865px;height:1px;background:#000"></div>
<div class="a" style="left:873px;top:841px;width:1209px;height:1px;background:#000"></div>
<div class="a" style="left:0px;top:865px;width:865px;height:1px;background:#000"></div>
<div class="a" style="left:873px;top:865px;width:1209px;height:1px;background:#000"></div>
<div class="a" style="left:0px;top:915px;width:865px;height:1px;background:#000"></div>
<div class="a" style="left:873px;top:915px;width:1209px;height:1px;background:#000"></div>
<div class="a" style="left:0px;top:939px;width:865px;height:1px;background:#000"></div>
<div class="a" style="left:873px;top:939px;width:1209px;height:1px;background:#000"></div>
<div class="a" style="left:0px;top:889px;width:865px;height:1px;background:#000"></div>
<div class="a" style="left:873px;top:889px;width:1209px;height:1px;background:#000"></div>
<div class="a" style="left:0px;top:891px;width:865px;height:1px;background:#000"></div>
<div class="a" style="left:873px;top:891px;width:1209px;height:1px;background:#000"></div>
<div class="a" style="left:0px;top:963px;width:865px;height:2px;background:#000"></div>
<div class="a" style="left:873px;top:963px;width:1209px;height:2px;background:#000"></div>
<svg class="a" style="left:1765px;top:34px" width="71" height="70" viewBox="0 0 71 70">
<defs>
<clipPath id="cb"><rect x="-39.5" y="-14.9" width="79" height="29.8" rx="9.5"/></clipPath>
<linearGradient id="sL" gradientUnits="userSpaceOnUse" x1="-39" y1="0" x2="-8" y2="0"><stop offset="0" stop-color="#84C4FF"/><stop offset="1" stop-color="#4B68B0"/></linearGradient>
<linearGradient id="sR" gradientUnits="userSpaceOnUse" x1="39" y1="0" x2="8" y2="0"><stop offset="0" stop-color="#84C4FF"/><stop offset="1" stop-color="#4B68B0"/></linearGradient>
<linearGradient id="vL" gradientUnits="userSpaceOnUse" x1="-39" y1="0" x2="14" y2="0"><stop offset="0" stop-color="#36F8A2"/><stop offset="0.45" stop-color="#4EDDC4"/><stop offset="0.8" stop-color="#80B6EE"/><stop offset="1" stop-color="#96A6F6"/></linearGradient>
<linearGradient id="vR" gradientUnits="userSpaceOnUse" x1="-14" y1="0" x2="39" y2="0"><stop offset="0" stop-color="#9AA0F6"/><stop offset="0.35" stop-color="#6F8CFA"/><stop offset="1" stop-color="#2A5BFF"/></linearGradient>
<linearGradient id="lL" gradientUnits="userSpaceOnUse" x1="-39" y1="0" x2="14" y2="0"><stop offset="0" stop-color="#3460FF"/><stop offset="0.6" stop-color="#3A8AEC"/><stop offset="1" stop-color="#40A8DE"/></linearGradient>
<linearGradient id="lR" gradientUnits="userSpaceOnUse" x1="-14" y1="0" x2="39" y2="0"><stop offset="0" stop-color="#40AADC"/><stop offset="0.5" stop-color="#45D2C8"/><stop offset="1" stop-color="#48EFB6"/></linearGradient>
</defs>
<g transform="translate(35.5,35)">
<g transform="rotate(45)" clip-path="url(#cb)"><rect x="-40" y="0" width="40" height="15" fill="url(#sL)"/><rect x="0" y="-15" width="40" height="15" fill="url(#sR)"/></g>
<g transform="rotate(-45)" clip-path="url(#cb)"><rect x="-40" y="0" width="40" height="15" fill="url(#sL)"/><rect x="0" y="-15" width="40" height="15" fill="url(#sR)"/></g>
<g transform="rotate(-45)" clip-path="url(#cb)"><rect x="-40" y="-15" width="55" height="15.5" fill="url(#lL)"/></g>
<g transform="rotate(45)" clip-path="url(#cb)"><rect x="-15" y="-0.5" width="55" height="15.5" fill="url(#lR)"/></g>
<g transform="rotate(45)" clip-path="url(#cb)"><rect x="-40" y="-15" width="55" height="15.5" fill="url(#vL)"/></g>
<g transform="rotate(-45)" clip-path="url(#cb)"><rect x="-15" y="-0.5" width="55" height="15.5" fill="url(#vR)"/></g>
</g>
</svg>
<svg class="a" style="left:1845px;top:38px" width="195" height="62" viewBox="1940 265 195 62">
<g fill="#243060">
<path d="M1945.2 273.1H1956.6L1969.3 306.9L1979.6 277.6Q1981.2 273.1 1986 273.1H1993.7L1975.8 320.6H1962.8Z"/>
<path fill-rule="evenodd" d="M2023.7 306.4L2023.7 303.5A17.35 18.35 0 1 0 2021.9 312L2014.3 308.2A7.7 6.6 0 0 1 1998.9 306.4Z M1999.8 299.9A6.7 6.2 0 0 1 2013.2 299.9Z"/>
<rect x="2028" y="271.3" width="10.4" height="49.5"/>
<rect x="2043.5" y="286.3" width="10.3" height="34.5"/>
<circle cx="2048.9" cy="276" r="6.05"/>
<path d="M2056.7 286.3H2068.6L2074.4 296.3L2081.1 286.3H2092.1L2081.3 303.5L2092.3 320.8H2080.5L2074.4 310.7L2068.4 320.8H2056.7L2067.2 303.5Z"/>
<path fill-rule="evenodd" d="M2091.2 303.55A18.35 18.35 0 1 0 2127.9 303.55A18.35 18.35 0 1 0 2091.2 303.55Z M2102 303.5A7.6 8.7 0 1 0 2117.2 303.5A7.6 8.7 0 1 0 2102 303.5Z"/>
</g></svg>
</div>
<div class="a" style="left:531px;top:146px;width:1px;height:1127px;background:#9E9E9E"></div>
<div class="a" style="left:0;top:492px;width:2214px;height:1px;background:#9E9E9E"></div>
<div class="a" style="left:2214px;top:146px;width:26px;height:1127px;background:#EBE8E3"></div>
<div class="a" style="left:2217px;top:146px;width:20px;height:1129px;background:#F4F4F4;border-radius:10px"></div>
<svg class="a" style="left:2221px;top:151px" width="12" height="10" viewBox="0 0 12 10"><path d="M6 1L11 9H1Z" fill="#6E6E6E" stroke="#6E6E6E" stroke-linejoin="round"/></svg>
<div class="a" style="left:2222px;top:167px;width:11px;height:1054px;background:#6E6E6E;border-radius:5.5px"></div>
<svg class="a" style="left:2221px;top:1260px" width="12" height="10" viewBox="0 0 12 10"><path d="M6 9L11 1H1Z" fill="#6E6E6E" stroke="#6E6E6E" stroke-linejoin="round"/></svg>
<div class="a" style="left:0;top:1273px;width:2240px;height:40px;background:#E6E7E2"></div>
<div class="a" style="left:0;top:1313px;width:2240px;height:1px;background:#C9C9C9"></div>
<svg class="a" style="left:30px;top:1285px" width="10" height="16" viewBox="0 0 10 16"><path d="M8 1L2 8L8 15" fill="none" stroke="#9a9a9a" stroke-width="1.2"/></svg>
<svg class="a" style="left:71px;top:1285px" width="10" height="16" viewBox="0 0 10 16"><path d="M2 1L8 8L2 15" fill="none" stroke="#333" stroke-width="1.2"/></svg>
<div class="tab" style="left:141px;width:155px;background:#FFD42E;color:#111">Profit Dashboard</div>
<div class="tab" style="left:307px;width:161px;background:#4C9A22;color:#fff">Consolidated P&amp;L</div>
<div class="tab" style="left:479px;width:120px;background:#3B6FF6;color:#fff">Profit &amp; Loss</div>
<div class="tab" style="left:610px;width:115px;background:#F4665C;color:#111">Control P&amp;L</div>
<div class="tab" style="left:736px;width:120px;background:#5B6A9F;color:#fff">Trial Balance</div>
<div class="tab" style="left:867px;width:131px;background:#232F5D;color:#fff">Balance Sheet</div>
<div class="tab" style="left:1191px;width:163px;background:#7031A0;color:#fff">Budget Writeback</div>
<div class="tab" style="left:1365px;width:147px;background:#A6E57E;color:#111">AR Transactions</div>
<div class="tab" style="left:1523px;width:95px;background:#67CB2D;color:#111">AR Aging</div>
<div class="tab" style="left:1629px;width:92px;background:#F9A69D;color:#111">GL Detail</div>
<div class="tab" style="left:1732px;width:209px;background:#74B4FF;color:#111">Journal Entry Writeback</div>
<div class="sep" style="left:301px"></div>
<div class="sep" style="left:473px"></div>
<div class="sep" style="left:604px"></div>
<div class="sep" style="left:730px"></div>
<div class="sep" style="left:861px"></div>
<div class="sep" style="left:1003px"></div>
<div class="sep" style="left:1185px"></div>
<div class="sep" style="left:1359px"></div>
<div class="sep" style="left:1517px"></div>
<div class="sep" style="left:1623px"></div>
<div class="sep" style="left:1726px"></div>
<div class="sep" style="left:1946px"></div>
<div class="a" style="left:1002px;top:1273px;width:186px;height:8px;background:#fff"></div>
<div class="a" style="left:1002px;top:1273px;width:6px;height:8px;background:#E6E7E2;border-top-right-radius:6px"></div>
<div class="a" style="left:1181px;top:1273px;width:7px;height:8px;background:#E6E7E2;border-top-left-radius:6px"></div>
<div class="a" style="left:1008px;top:1273px;width:173px;height:35px;background:#fff;border-radius:0 0 7px 7px"></div>
<div class="a" style="left:1010px;top:1276px;width:169px;height:31px;background:linear-gradient(#ffffff 0%,#F4F6FE 22%,#CBD7FB 70%,#A9BDF8 100%);border-radius:6px"></div>
<div class="tab" style="left:1010px;width:169px;top:1274px;background:transparent;color:#1a1a1a">Cash Flow Forecast</div>
<div class="a" style="left:1019px;top:1303px;width:151px;height:2px;background:#127D44"></div>
<div class="t" style="left:1963px;top:1280px;font-size:17.3px;line-height:26px;color:#222">Drilld</div>
<div class="a" style="left:2016px;top:1290px;width:4px;height:4px;border-radius:50%;background:#222"></div>
<div class="a" style="left:2021px;top:1290px;width:4px;height:4px;border-radius:50%;background:#222"></div>
<div class="a" style="left:2026px;top:1290px;width:4px;height:4px;border-radius:50%;background:#222"></div>
<svg class="a" style="left:2054px;top:1285px" width="16" height="16" viewBox="0 0 16 16"><path d="M8 1V15M1 8H15" stroke="#222" stroke-width="1.3"/></svg>
<div class="a" style="left:2101px;top:1286px;width:3px;height:3px;background:#333;border-radius:1.5px"></div>
<div class="a" style="left:2101px;top:1292px;width:3px;height:3px;background:#333;border-radius:1.5px"></div>
<div class="a" style="left:2101px;top:1298px;width:3px;height:3px;background:#333;border-radius:1.5px"></div>
<div class="a" style="left:2123px;top:1282px;width:92px;height:21px;background:#F4F4F4;border-radius:10px"></div>
<svg class="a" style="left:2127px;top:1287px" width="10" height="11" viewBox="0 0 10 11"><path d="M1 5.5L9 1V10Z" fill="#6E6E6E" stroke="#6E6E6E" stroke-linejoin="round"/></svg>
<div class="a" style="left:2144px;top:1287px;width:40px;height:11px;background:#6E6E6E;border-radius:5.5px"></div>
<svg class="a" style="left:2200px;top:1287px" width="10" height="11" viewBox="0 0 10 11"><path d="M9 5.5L1 1V10Z" fill="#6E6E6E" stroke="#6E6E6E" stroke-linejoin="round"/></svg>
<div class="a" style="left:0;top:1314px;width:2240px;height:26px;background:#F3F3F3"></div>
<div class="t" style="left:14px;top:1318px;font-size:13px;line-height:20px;color:#333">Ready</div>
<svg class="a" style="left:75px;top:1318px" width="19" height="19" viewBox="0 0 19 19" fill="none" stroke="#333" stroke-width="1.25" stroke-linecap="round">
<circle cx="9" cy="2.8" r="1.9"/><path d="M1.5 6.2C4.5 7.6 13.5 7.6 16.5 6.2"/><path d="M9 7.3V11.2L5.2 17.5M9 11.2L10.8 14.2"/><path d="M12.3 12.6L17.6 17.9M17.6 12.6L12.3 17.9"/></svg>
<div class="t" style="left:97px;top:1318px;font-size:12.7px;line-height:20px;color:#222;font-weight:bold">Accessibility: Investigate</div>
<svg class="a" style="left:1731px;top:1319px" width="18" height="16" viewBox="0 0 18 16" fill="none" stroke="#444" stroke-width="1.1">
<rect x="1" y="1" width="15" height="10" rx="1"/><path d="M5 14H9"/><circle cx="12" cy="11" r="2.6" fill="#F3F3F3"/></svg>
<div class="t" style="left:1752px;top:1317px;font-size:13px;line-height:20px;color:#333">Display Settings</div>
<div class="a" style="left:1868px;top:1314px;width:50px;height:26px;background:#E0E0E0"></div>
<svg class="a" style="left:1884px;top:1318px" width="17" height="17" viewBox="0 0 17 17" fill="none" stroke="#3a3a3a" stroke-width="1.3">
<rect x="0.65" y="0.65" width="15.7" height="15.7" rx="0.5"/><path d="M0.6 5.9H16.4M0.6 11.1H16.4M5.9 0.6V16.4M11.1 0.6V16.4"/></svg>
<svg class="a" style="left:1934px;top:1318px" width="18" height="17" viewBox="0 0 18 17" fill="none" stroke="#3a3a3a" stroke-width="1.3">
<rect x="0.65" y="0.65" width="16.7" height="15.7" rx="0.5"/><rect x="4.6" y="3.6" width="8.8" height="9.8"/><path d="M6.5 6.3H11.5M6.5 8.5H11.5M6.5 10.7H11.5" stroke-width="1"/></svg>
<svg class="a" style="left:1984px;top:1318px" width="18" height="17" viewBox="0 0 18 17" fill="none" stroke="#3a3a3a" stroke-width="1.3">
<rect x="0.65" y="0.65" width="16.7" height="15.7" rx="0.5"/><path d="M0.6 9.4H10.6M6 0.6V9.4M10.6 0.6V9.4"/></svg>
<div class="a" style="left:2025px;top:1326px;width:11px;height:1px;background:#444"></div>
<div class="a" style="left:2041px;top:1326px;width:125px;height:1px;background:#8a8a8a"></div>
<div class="a" style="left:2101px;top:1320px;width:6px;height:14px;background:#555;border-radius:1px"></div>
<svg class="a" style="left:2170px;top:1320px" width="12" height="12" viewBox="0 0 12 12"><path d="M6 0.5V11.5M0.5 6H11.5" stroke="#444" stroke-width="1.1"/></svg>
<div class="t" style="left:2198px;top:1317px;font-size:12.7px;line-height:20px;color:#333">100%</div>
</body></html>
